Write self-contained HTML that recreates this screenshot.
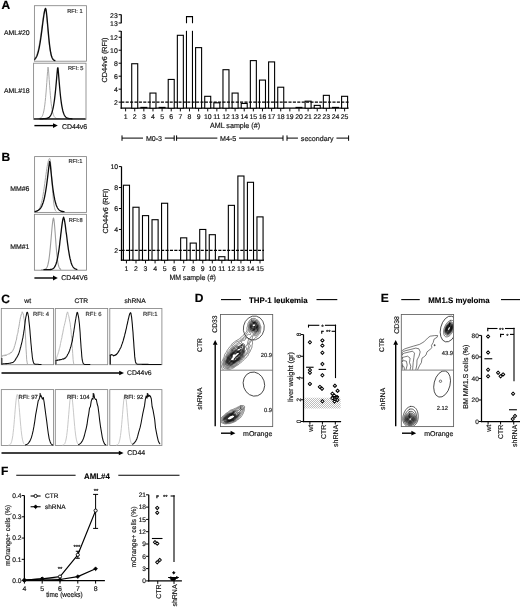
<!DOCTYPE html>
<html><head><meta charset="utf-8"><title>Figure</title>
<style>
html,body{margin:0;padding:0;background:#fff;}
body{width:520px;height:608px;overflow:hidden;}
svg{display:block;filter:blur(0.3px);font-family:"Liberation Sans",Arial,sans-serif;text-rendering:geometricPrecision;}
</style></head><body>
<svg width="520" height="608" viewBox="0 0 520 608">
<rect x="0" y="0" width="520" height="608" fill="#fff"/>
<text x="1.50" y="9.40" font-size="12" text-anchor="start" font-weight="bold" fill="#000" stroke="#000" stroke-width="0.2">A</text>
<rect x="34.40" y="5.70" width="52.10" height="55.50" stroke="#858585" stroke-width="0.85" fill="none"/>
<rect x="33.60" y="63.20" width="52.40" height="56.20" stroke="#858585" stroke-width="0.85" fill="none"/>
<text x="4.00" y="35.17" font-size="6.9" text-anchor="start" font-weight="normal" fill="#151515" stroke="#151515" stroke-width="0.18">AML#20</text>
<text x="4.00" y="93.17" font-size="6.9" text-anchor="start" font-weight="normal" fill="#151515" stroke="#151515" stroke-width="0.18">AML#18</text>
<text x="67.20" y="12.64" font-size="5.7" text-anchor="start" font-weight="normal" fill="#333" stroke="#333" stroke-width="0.18">RFI: 1</text>
<text x="68.00" y="70.14" font-size="5.7" text-anchor="start" font-weight="normal" fill="#333" stroke="#333" stroke-width="0.18">RFI: 5</text>
<path d="M34.8,58.4 L35.2,57.9 L35.6,57.3 L36.0,56.5 L36.4,55.7 L36.8,54.6 L37.2,53.5 L37.6,52.2 L38.0,50.6 L38.4,49.0 L38.8,47.1 L39.2,45.0 L39.6,42.7 L40.0,40.3 L40.4,37.7 L40.8,34.9 L41.2,32.0 L41.6,29.0 L42.0,26.0 L42.4,23.0 L42.8,20.1 L43.2,17.3 L43.6,14.7 L44.0,12.4 L44.4,10.6 L44.8,9.2 L45.2,8.4 L45.6,9.1 L46.0,11.3 L46.4,14.6 L46.8,18.6 L47.2,23.0 L47.6,27.6 L48.0,32.2 L48.4,36.5 L48.8,40.6 L49.2,44.2 L49.6,47.4 L50.0,50.2 L50.4,52.5 L50.8,54.4 L51.2,55.9 L51.6,57.1 L52.0,58.1 L52.4,58.8 L52.8,59.4 L53.2,59.8 L53.6,60.1 L54.0,60.3 L54.4,60.5 L54.8,60.6" stroke="#a9a9a9" stroke-width="1.0" fill="none" stroke-linejoin="round" stroke-linecap="round"/>
<path d="M34.8,59.2 L35.2,58.8 L35.6,58.3 L36.0,57.7 L36.4,57.0 L36.8,56.2 L37.2,55.2 L37.6,54.1 L38.0,52.8 L38.4,51.3 L38.8,49.6 L39.2,47.8 L39.6,45.7 L40.0,43.4 L40.4,40.9 L40.8,38.2 L41.2,35.3 L41.6,32.4 L42.0,29.3 L42.4,26.1 L42.8,23.0 L43.2,20.0 L43.6,17.1 L44.0,14.5 L44.4,12.2 L44.8,10.3 L45.2,9.0 L45.6,8.4 L46.0,9.5 L46.4,12.0 L46.8,15.5 L47.2,19.7 L47.6,24.2 L48.0,28.8 L48.4,33.3 L48.8,37.6 L49.2,41.5 L49.6,45.1 L50.0,48.1 L50.4,50.8 L50.8,53.0 L51.2,54.8 L51.6,56.3 L52.0,57.4 L52.4,58.3 L52.8,59.0 L53.2,59.5 L53.6,59.9 L54.0,60.2 L54.4,60.4 L54.8,60.5" stroke="#0c0c0c" stroke-width="1.3" fill="none" stroke-linejoin="round" stroke-linecap="round"/>
<path d="M38.0,118.7 L38.4,118.7 L38.8,118.6 L39.2,118.5 L39.6,118.4 L40.0,118.3 L40.4,118.1 L40.8,117.9 L41.2,117.5 L41.6,117.1 L42.0,116.5 L42.4,115.8 L42.8,114.8 L43.2,113.6 L43.6,112.0 L44.0,110.1 L44.4,107.8 L44.8,104.9 L45.2,101.5 L45.6,97.5 L46.0,93.0 L46.4,87.9 L46.8,82.4 L47.2,76.7 L47.6,71.3 L48.0,67.1 L48.4,69.0 L48.8,73.9 L49.2,79.5 L49.6,85.2 L50.0,90.5 L50.4,95.3 L50.8,99.6 L51.2,103.3 L51.6,106.4 L52.0,109.0 L52.4,111.1 L52.8,112.9 L53.2,114.2 L53.6,115.3 L54.0,116.2 L54.4,116.8 L54.8,117.3 L55.2,117.7 L55.6,118.0 L56.0,118.2 L56.4,118.4 L56.8,118.5 L57.2,118.6 L57.6,118.6 L58.0,118.7 L58.4,118.7 L58.8,118.7 L59.2,118.8 L59.6,118.8 L60.0,118.8" stroke="#a9a9a9" stroke-width="1.0" fill="none" stroke-linejoin="round" stroke-linecap="round"/>
<line x1="34.00" y1="118.90" x2="85.60" y2="118.90" stroke="#0c0c0c" stroke-width="1.2" stroke-linecap="butt"/>
<path d="M40.0,118.8 L40.4,118.8 L40.8,118.8 L41.2,118.8 L41.6,118.8 L42.0,118.8 L42.4,118.8 L42.8,118.8 L43.2,118.7 L43.6,118.7 L44.0,118.7 L44.4,118.7 L44.8,118.7 L45.2,118.6 L45.6,118.6 L46.0,118.5 L46.4,118.5 L46.8,118.4 L47.2,118.3 L47.6,118.1 L48.0,117.9 L48.4,117.7 L48.8,117.5 L49.2,117.2 L49.6,116.8 L50.0,116.3 L50.4,115.8 L50.8,115.1 L51.2,114.3 L51.6,113.4 L52.0,112.3 L52.4,110.9 L52.8,109.4 L53.2,107.6 L53.6,105.5 L54.0,103.0 L54.4,100.3 L54.8,97.1 L55.2,93.6 L55.6,89.8 L56.0,85.5 L56.4,81.1 L56.8,76.4 L57.2,71.8 L57.6,67.8 L58.0,67.9 L58.4,72.2 L58.8,77.2 L59.2,82.1 L59.6,86.8 L60.0,91.2 L60.4,95.2 L60.8,98.7 L61.2,101.8 L61.6,104.6 L62.0,106.9 L62.4,108.9 L62.8,110.7 L63.2,112.1 L63.6,113.3 L64.0,114.3 L64.4,115.2 L64.8,115.9 L65.2,116.4 L65.6,116.9 L66.0,117.3 L66.4,117.6 L66.8,117.8 L67.2,118.0 L67.6,118.2 L68.0,118.3 L68.4,118.4 L68.8,118.5 L69.2,118.6 L69.6,118.6 L70.0,118.7 L70.4,118.7 L70.8,118.7 L71.2,118.7 L71.6,118.8 L72.0,118.8" stroke="#0c0c0c" stroke-width="1.3" fill="none" stroke-linejoin="round" stroke-linecap="round"/>
<line x1="34.40" y1="125.60" x2="53.50" y2="125.60" stroke="#000" stroke-width="1.4" stroke-linecap="butt"/>
<path d="M57.80,125.60 L53.00,123.20 L53.00,128.00 Z" fill="#000"/>
<text x="61.90" y="128.71" font-size="7.0" text-anchor="start" font-weight="normal" fill="#151515" stroke="#151515" stroke-width="0.18">CD44v6</text>
<line x1="121.25" y1="31.00" x2="121.25" y2="108.83" stroke="#000" stroke-width="1.25" stroke-linecap="butt"/>
<line x1="121.25" y1="14.40" x2="121.25" y2="23.20" stroke="#000" stroke-width="1.25" stroke-linecap="butt"/>
<line x1="120.62" y1="108.20" x2="348.60" y2="108.20" stroke="#000" stroke-width="1.25" stroke-linecap="butt"/>
<line x1="118.65" y1="102.15" x2="121.25" y2="102.15" stroke="#000" stroke-width="1.0" stroke-linecap="butt"/>
<text x="117.75" y="104.62" font-size="6.9" text-anchor="end" font-weight="normal" fill="#151515" stroke="#151515" stroke-width="0.18">2</text>
<line x1="118.65" y1="89.17" x2="121.25" y2="89.17" stroke="#000" stroke-width="1.0" stroke-linecap="butt"/>
<text x="117.75" y="91.64" font-size="6.9" text-anchor="end" font-weight="normal" fill="#151515" stroke="#151515" stroke-width="0.18">4</text>
<line x1="118.65" y1="76.19" x2="121.25" y2="76.19" stroke="#000" stroke-width="1.0" stroke-linecap="butt"/>
<text x="117.75" y="78.66" font-size="6.9" text-anchor="end" font-weight="normal" fill="#151515" stroke="#151515" stroke-width="0.18">6</text>
<line x1="118.65" y1="63.21" x2="121.25" y2="63.21" stroke="#000" stroke-width="1.0" stroke-linecap="butt"/>
<text x="117.75" y="65.68" font-size="6.9" text-anchor="end" font-weight="normal" fill="#151515" stroke="#151515" stroke-width="0.18">8</text>
<line x1="118.65" y1="50.23" x2="121.25" y2="50.23" stroke="#000" stroke-width="1.0" stroke-linecap="butt"/>
<text x="117.75" y="52.70" font-size="6.9" text-anchor="end" font-weight="normal" fill="#151515" stroke="#151515" stroke-width="0.18">10</text>
<line x1="118.65" y1="37.25" x2="121.25" y2="37.25" stroke="#000" stroke-width="1.0" stroke-linecap="butt"/>
<text x="117.75" y="39.72" font-size="6.9" text-anchor="end" font-weight="normal" fill="#151515" stroke="#151515" stroke-width="0.18">12</text>
<line x1="118.65" y1="31.20" x2="121.25" y2="31.20" stroke="#000" stroke-width="1.0" stroke-linecap="butt"/>
<line x1="118.65" y1="14.70" x2="121.25" y2="14.70" stroke="#000" stroke-width="1.0" stroke-linecap="butt"/>
<line x1="118.65" y1="23.00" x2="121.25" y2="23.00" stroke="#000" stroke-width="1.0" stroke-linecap="butt"/>
<text x="117.75" y="17.67" font-size="6.9" text-anchor="end" font-weight="normal" fill="#151515" stroke="#151515" stroke-width="0.18">23</text>
<text x="117.75" y="25.67" font-size="6.9" text-anchor="end" font-weight="normal" fill="#151515" stroke="#151515" stroke-width="0.18">13</text>
<text transform="translate(106.81,60.00) rotate(-90)" font-size="7.3" text-anchor="middle" font-weight="normal" fill="#151515" stroke="#151515" stroke-width="0.18">CD44v6 (RFI)</text>
<line x1="125.60" y1="108.20" x2="125.60" y2="111.40" stroke="#000" stroke-width="0.95" stroke-linecap="butt"/>
<text x="125.60" y="118.67" font-size="6.9" text-anchor="middle" font-weight="normal" fill="#151515" stroke="#151515" stroke-width="0.18">1</text>
<line x1="134.72" y1="108.20" x2="134.72" y2="111.40" stroke="#000" stroke-width="0.95" stroke-linecap="butt"/>
<text x="134.72" y="118.67" font-size="6.9" text-anchor="middle" font-weight="normal" fill="#151515" stroke="#151515" stroke-width="0.18">2</text>
<rect x="131.72" y="63.73" width="6.00" height="44.47" stroke="#000" stroke-width="1.1" fill="#fff"/>
<line x1="143.85" y1="108.20" x2="143.85" y2="111.40" stroke="#000" stroke-width="0.95" stroke-linecap="butt"/>
<text x="143.85" y="118.67" font-size="6.9" text-anchor="middle" font-weight="normal" fill="#151515" stroke="#151515" stroke-width="0.18">3</text>
<line x1="140.35" y1="107.50" x2="147.35" y2="107.50" stroke="#000" stroke-width="1.3" stroke-linecap="butt"/>
<line x1="152.97" y1="108.20" x2="152.97" y2="111.40" stroke="#000" stroke-width="0.95" stroke-linecap="butt"/>
<text x="152.97" y="118.67" font-size="6.9" text-anchor="middle" font-weight="normal" fill="#151515" stroke="#151515" stroke-width="0.18">4</text>
<rect x="149.97" y="93.06" width="6.00" height="15.14" stroke="#000" stroke-width="1.1" fill="#fff"/>
<line x1="162.10" y1="108.20" x2="162.10" y2="111.40" stroke="#000" stroke-width="0.95" stroke-linecap="butt"/>
<text x="162.10" y="118.67" font-size="6.9" text-anchor="middle" font-weight="normal" fill="#151515" stroke="#151515" stroke-width="0.18">5</text>
<line x1="158.60" y1="107.50" x2="165.60" y2="107.50" stroke="#000" stroke-width="1.3" stroke-linecap="butt"/>
<line x1="171.22" y1="108.20" x2="171.22" y2="111.40" stroke="#000" stroke-width="0.95" stroke-linecap="butt"/>
<text x="171.22" y="118.67" font-size="6.9" text-anchor="middle" font-weight="normal" fill="#151515" stroke="#151515" stroke-width="0.18">6</text>
<rect x="168.22" y="79.44" width="6.00" height="28.77" stroke="#000" stroke-width="1.1" fill="#fff"/>
<line x1="180.35" y1="108.20" x2="180.35" y2="111.40" stroke="#000" stroke-width="0.95" stroke-linecap="butt"/>
<text x="180.35" y="118.67" font-size="6.9" text-anchor="middle" font-weight="normal" fill="#151515" stroke="#151515" stroke-width="0.18">7</text>
<rect x="177.35" y="35.30" width="6.00" height="72.90" stroke="#000" stroke-width="1.1" fill="#fff"/>
<line x1="189.47" y1="108.20" x2="189.47" y2="111.40" stroke="#000" stroke-width="0.95" stroke-linecap="butt"/>
<text x="189.47" y="118.67" font-size="6.9" text-anchor="middle" font-weight="normal" fill="#151515" stroke="#151515" stroke-width="0.18">8</text>
<line x1="186.47" y1="108.20" x2="186.47" y2="30.80" stroke="#000" stroke-width="1.1" stroke-linecap="butt"/>
<line x1="192.47" y1="108.20" x2="192.47" y2="30.80" stroke="#000" stroke-width="1.1" stroke-linecap="butt"/>
<path d="M186.5,22.7 L186.5,16.6 L192.5,16.6 L192.5,22.7" stroke="#000" stroke-width="1.1" fill="none" stroke-linejoin="miter" stroke-linecap="round"/>
<line x1="198.60" y1="108.20" x2="198.60" y2="111.40" stroke="#000" stroke-width="0.95" stroke-linecap="butt"/>
<text x="198.60" y="118.67" font-size="6.9" text-anchor="middle" font-weight="normal" fill="#151515" stroke="#151515" stroke-width="0.18">9</text>
<rect x="195.60" y="47.63" width="6.00" height="60.57" stroke="#000" stroke-width="1.1" fill="#fff"/>
<line x1="207.72" y1="108.20" x2="207.72" y2="111.40" stroke="#000" stroke-width="0.95" stroke-linecap="butt"/>
<text x="207.72" y="118.67" font-size="6.9" text-anchor="middle" font-weight="normal" fill="#151515" stroke="#151515" stroke-width="0.18">10</text>
<rect x="204.72" y="96.31" width="6.00" height="11.89" stroke="#000" stroke-width="1.1" fill="#fff"/>
<line x1="216.85" y1="108.20" x2="216.85" y2="111.40" stroke="#000" stroke-width="0.95" stroke-linecap="butt"/>
<text x="216.85" y="118.67" font-size="6.9" text-anchor="middle" font-weight="normal" fill="#151515" stroke="#151515" stroke-width="0.18">11</text>
<rect x="213.85" y="102.80" width="6.00" height="5.40" stroke="#000" stroke-width="1.1" fill="#fff"/>
<line x1="225.97" y1="108.20" x2="225.97" y2="111.40" stroke="#000" stroke-width="0.95" stroke-linecap="butt"/>
<text x="225.97" y="118.67" font-size="6.9" text-anchor="middle" font-weight="normal" fill="#151515" stroke="#151515" stroke-width="0.18">12</text>
<rect x="222.97" y="69.70" width="6.00" height="38.50" stroke="#000" stroke-width="1.1" fill="#fff"/>
<line x1="235.10" y1="108.20" x2="235.10" y2="111.40" stroke="#000" stroke-width="0.95" stroke-linecap="butt"/>
<text x="235.10" y="118.67" font-size="6.9" text-anchor="middle" font-weight="normal" fill="#151515" stroke="#151515" stroke-width="0.18">13</text>
<rect x="232.10" y="93.06" width="6.00" height="15.14" stroke="#000" stroke-width="1.1" fill="#fff"/>
<line x1="244.22" y1="108.20" x2="244.22" y2="111.40" stroke="#000" stroke-width="0.95" stroke-linecap="butt"/>
<text x="244.22" y="118.67" font-size="6.9" text-anchor="middle" font-weight="normal" fill="#151515" stroke="#151515" stroke-width="0.18">14</text>
<rect x="241.22" y="103.45" width="6.00" height="4.75" stroke="#000" stroke-width="1.1" fill="#fff"/>
<line x1="253.35" y1="108.20" x2="253.35" y2="111.40" stroke="#000" stroke-width="0.95" stroke-linecap="butt"/>
<text x="253.35" y="118.67" font-size="6.9" text-anchor="middle" font-weight="normal" fill="#151515" stroke="#151515" stroke-width="0.18">15</text>
<rect x="250.35" y="60.61" width="6.00" height="47.59" stroke="#000" stroke-width="1.1" fill="#fff"/>
<line x1="262.48" y1="108.20" x2="262.48" y2="111.40" stroke="#000" stroke-width="0.95" stroke-linecap="butt"/>
<text x="262.48" y="118.67" font-size="6.9" text-anchor="middle" font-weight="normal" fill="#151515" stroke="#151515" stroke-width="0.18">16</text>
<rect x="259.48" y="80.08" width="6.00" height="28.12" stroke="#000" stroke-width="1.1" fill="#fff"/>
<line x1="271.60" y1="108.20" x2="271.60" y2="111.40" stroke="#000" stroke-width="0.95" stroke-linecap="butt"/>
<text x="271.60" y="118.67" font-size="6.9" text-anchor="middle" font-weight="normal" fill="#151515" stroke="#151515" stroke-width="0.18">17</text>
<rect x="268.60" y="61.91" width="6.00" height="46.29" stroke="#000" stroke-width="1.1" fill="#fff"/>
<line x1="280.73" y1="108.20" x2="280.73" y2="111.40" stroke="#000" stroke-width="0.95" stroke-linecap="butt"/>
<text x="280.73" y="118.67" font-size="6.9" text-anchor="middle" font-weight="normal" fill="#151515" stroke="#151515" stroke-width="0.18">18</text>
<rect x="277.73" y="87.22" width="6.00" height="20.98" stroke="#000" stroke-width="1.1" fill="#fff"/>
<line x1="289.85" y1="108.20" x2="289.85" y2="111.40" stroke="#000" stroke-width="0.95" stroke-linecap="butt"/>
<text x="289.85" y="118.67" font-size="6.9" text-anchor="middle" font-weight="normal" fill="#151515" stroke="#151515" stroke-width="0.18">19</text>
<line x1="298.98" y1="108.20" x2="298.98" y2="111.40" stroke="#000" stroke-width="0.95" stroke-linecap="butt"/>
<text x="298.98" y="118.67" font-size="6.9" text-anchor="middle" font-weight="normal" fill="#151515" stroke="#151515" stroke-width="0.18">20</text>
<line x1="295.48" y1="107.50" x2="302.48" y2="107.50" stroke="#000" stroke-width="1.3" stroke-linecap="butt"/>
<line x1="308.10" y1="108.20" x2="308.10" y2="111.40" stroke="#000" stroke-width="0.95" stroke-linecap="butt"/>
<text x="308.10" y="118.67" font-size="6.9" text-anchor="middle" font-weight="normal" fill="#151515" stroke="#151515" stroke-width="0.18">21</text>
<rect x="305.10" y="101.18" width="6.00" height="7.02" stroke="#000" stroke-width="1.1" fill="#fff"/>
<line x1="317.23" y1="108.20" x2="317.23" y2="111.40" stroke="#000" stroke-width="0.95" stroke-linecap="butt"/>
<text x="317.23" y="118.67" font-size="6.9" text-anchor="middle" font-weight="normal" fill="#151515" stroke="#151515" stroke-width="0.18">22</text>
<rect x="314.23" y="105.39" width="6.00" height="2.81" stroke="#000" stroke-width="1.1" fill="#fff"/>
<line x1="326.35" y1="108.20" x2="326.35" y2="111.40" stroke="#000" stroke-width="0.95" stroke-linecap="butt"/>
<text x="326.35" y="118.67" font-size="6.9" text-anchor="middle" font-weight="normal" fill="#151515" stroke="#151515" stroke-width="0.18">23</text>
<rect x="323.35" y="95.34" width="6.00" height="12.86" stroke="#000" stroke-width="1.1" fill="#fff"/>
<line x1="335.48" y1="108.20" x2="335.48" y2="111.40" stroke="#000" stroke-width="0.95" stroke-linecap="butt"/>
<text x="335.48" y="118.67" font-size="6.9" text-anchor="middle" font-weight="normal" fill="#151515" stroke="#151515" stroke-width="0.18">24</text>
<line x1="331.98" y1="107.50" x2="338.98" y2="107.50" stroke="#000" stroke-width="1.3" stroke-linecap="butt"/>
<line x1="344.60" y1="108.20" x2="344.60" y2="111.40" stroke="#000" stroke-width="0.95" stroke-linecap="butt"/>
<text x="344.60" y="118.67" font-size="6.9" text-anchor="middle" font-weight="normal" fill="#151515" stroke="#151515" stroke-width="0.18">25</text>
<rect x="341.60" y="96.31" width="6.00" height="11.89" stroke="#000" stroke-width="1.1" fill="#fff"/>
<line x1="121.25" y1="102.15" x2="348.60" y2="102.15" stroke="#000" stroke-width="1.1" stroke-linecap="butt" stroke-dasharray="3.1 1.3"/>
<text x="210.00" y="128.38" font-size="7.5" text-anchor="start" font-weight="normal" fill="#151515" textLength="50" lengthAdjust="spacingAndGlyphs" stroke="#151515" stroke-width="0.18">AML sample (#)</text>
<line x1="122.00" y1="135.40" x2="122.00" y2="140.80" stroke="#000" stroke-width="1.0" stroke-linecap="butt"/>
<line x1="174.20" y1="135.40" x2="174.20" y2="140.80" stroke="#000" stroke-width="1.0" stroke-linecap="butt"/>
<line x1="122.00" y1="138.10" x2="143.00" y2="138.10" stroke="#000" stroke-width="1.0" stroke-linecap="butt"/>
<line x1="164.80" y1="138.10" x2="174.20" y2="138.10" stroke="#000" stroke-width="1.0" stroke-linecap="butt"/>
<text x="154.00" y="140.84" font-size="7.1" text-anchor="middle" font-weight="normal" fill="#151515" stroke="#151515" stroke-width="0.18">M0-3</text>
<line x1="176.60" y1="135.40" x2="176.60" y2="140.80" stroke="#000" stroke-width="1.0" stroke-linecap="butt"/>
<line x1="283.00" y1="135.40" x2="283.00" y2="140.80" stroke="#000" stroke-width="1.0" stroke-linecap="butt"/>
<line x1="176.60" y1="138.10" x2="217.35" y2="138.10" stroke="#000" stroke-width="1.0" stroke-linecap="butt"/>
<line x1="239.05" y1="138.10" x2="283.00" y2="138.10" stroke="#000" stroke-width="1.0" stroke-linecap="butt"/>
<text x="228.20" y="140.84" font-size="7.1" text-anchor="middle" font-weight="normal" fill="#151515" stroke="#151515" stroke-width="0.18">M4-5</text>
<line x1="287.00" y1="135.40" x2="287.00" y2="140.80" stroke="#000" stroke-width="1.0" stroke-linecap="butt"/>
<line x1="348.60" y1="135.40" x2="348.60" y2="140.80" stroke="#000" stroke-width="1.0" stroke-linecap="butt"/>
<line x1="287.00" y1="138.10" x2="297.95" y2="138.10" stroke="#000" stroke-width="1.0" stroke-linecap="butt"/>
<line x1="336.45" y1="138.10" x2="348.60" y2="138.10" stroke="#000" stroke-width="1.0" stroke-linecap="butt"/>
<text x="317.20" y="140.84" font-size="7.1" text-anchor="middle" font-weight="normal" fill="#151515" stroke="#151515" stroke-width="0.18">secondary</text>
<text x="1.50" y="160.70" font-size="12" text-anchor="start" font-weight="bold" fill="#000" stroke="#000" stroke-width="0.2">B</text>
<rect x="34.60" y="156.60" width="51.90" height="55.80" stroke="#858585" stroke-width="0.85" fill="none"/>
<rect x="34.40" y="214.30" width="52.10" height="55.90" stroke="#858585" stroke-width="0.85" fill="none"/>
<text x="10.20" y="191.17" font-size="6.9" text-anchor="start" font-weight="normal" fill="#151515" stroke="#151515" stroke-width="0.18">MM#6</text>
<text x="10.20" y="249.47" font-size="6.9" text-anchor="start" font-weight="normal" fill="#151515" stroke="#151515" stroke-width="0.18">MM#1</text>
<text x="68.50" y="163.24" font-size="5.7" text-anchor="start" font-weight="normal" fill="#333" stroke="#333" stroke-width="0.18">RFI:1</text>
<text x="68.70" y="222.24" font-size="5.7" text-anchor="start" font-weight="normal" fill="#333" stroke="#333" stroke-width="0.18">RFI:8</text>
<path d="M35.2,211.7 L35.6,211.6 L36.0,211.5 L36.4,211.4 L36.8,211.2 L37.2,211.0 L37.6,210.7 L38.0,210.4 L38.4,210.0 L38.8,209.5 L39.2,208.9 L39.6,208.1 L40.0,207.3 L40.4,206.3 L40.8,205.1 L41.2,203.7 L41.6,202.2 L42.0,200.5 L42.4,198.5 L42.8,196.4 L43.2,194.1 L43.6,191.6 L44.0,188.9 L44.4,186.1 L44.8,183.3 L45.2,180.3 L45.6,177.4 L46.0,174.4 L46.4,171.6 L46.8,168.9 L47.2,166.4 L47.6,164.2 L48.0,162.3 L48.4,160.7 L48.8,159.5 L49.2,158.7 L49.6,158.4 L50.0,158.9 L50.4,161.2 L50.8,165.1 L51.2,170.2 L51.6,176.1 L52.0,182.2 L52.4,188.1 L52.8,193.5 L53.2,198.2 L53.6,202.0 L54.0,205.0 L54.4,207.3 L54.8,208.9 L55.2,210.0 L55.6,210.8 L56.0,211.2" stroke="#a9a9a9" stroke-width="1.0" fill="none" stroke-linejoin="round" stroke-linecap="round"/>
<path d="M35.2,211.5 L35.6,211.4 L36.0,211.3 L36.4,211.2 L36.8,211.0 L37.2,210.9 L37.6,210.7 L38.0,210.5 L38.4,210.2 L38.8,210.0 L39.2,209.6 L39.6,209.3 L40.0,208.8 L40.4,208.3 L40.8,207.8 L41.2,207.1 L41.6,206.4 L42.0,205.6 L42.4,204.6 L42.8,203.6 L43.2,202.4 L43.6,201.0 L44.0,199.5 L44.4,197.8 L44.8,196.0 L45.2,193.9 L45.6,191.7 L46.0,189.2 L46.4,186.6 L46.8,183.7 L47.2,180.7 L47.6,177.4 L48.0,174.1 L48.4,170.7 L48.8,167.3 L49.2,164.1 L49.6,161.4 L50.0,162.3 L50.4,165.7 L50.8,169.6 L51.2,173.5 L51.6,177.4 L52.0,181.1 L52.4,184.6 L52.8,187.8 L53.2,190.7 L53.6,193.4 L54.0,195.8 L54.4,198.0 L54.8,199.9 L55.2,201.6 L55.6,203.0 L56.0,204.3 L56.4,205.5 L56.8,206.4 L57.2,207.3 L57.6,208.0 L58.0,208.6 L58.4,209.1 L58.8,209.6 L59.2,210.0 L59.6,210.3 L60.0,210.5 L60.4,210.8 L60.8,211.0 L61.2,211.1 L61.6,211.3 L62.0,211.4 L62.4,211.5 L62.8,211.5 L63.2,211.6 L63.6,211.7 L64.0,211.7" stroke="#0c0c0c" stroke-width="1.3" fill="none" stroke-linejoin="round" stroke-linecap="round"/>
<path d="M41.5,269.7 L41.9,269.7 L42.3,269.7 L42.7,269.7 L43.1,269.7 L43.5,269.6 L43.9,269.6 L44.3,269.5 L44.7,269.4 L45.1,269.3 L45.5,269.1 L45.9,268.8 L46.3,268.4 L46.7,267.8 L47.1,267.0 L47.5,266.0 L47.9,264.7 L48.3,263.0 L48.7,260.9 L49.1,258.3 L49.5,255.2 L49.9,251.6 L50.3,247.6 L50.7,243.2 L51.1,238.6 L51.5,233.8 L51.9,229.2 L52.3,225.0 L52.7,221.5 L53.1,219.0 L53.5,218.0 L53.9,219.4 L54.3,222.6 L54.7,227.0 L55.1,232.3 L55.5,237.8 L55.9,243.2 L56.3,248.3 L56.7,252.9 L57.1,256.8 L57.5,260.0 L57.9,262.7 L58.3,264.7 L58.7,266.2 L59.1,267.3 L59.5,268.1 L59.9,268.7 L60.3,269.0 L60.7,269.3" stroke="#9c9c9c" stroke-width="1.1" fill="none" stroke-linejoin="round" stroke-linecap="round"/>
<path d="M44.0,269.7 L44.4,269.7 L44.8,269.7 L45.2,269.7 L45.6,269.7 L46.0,269.7 L46.4,269.7 L46.8,269.7 L47.2,269.7 L47.6,269.7 L48.0,269.7 L48.4,269.7 L48.8,269.7 L49.2,269.6 L49.6,269.6 L50.0,269.6 L50.4,269.5 L50.8,269.5 L51.2,269.4 L51.6,269.3 L52.0,269.2 L52.4,269.0 L52.8,268.8 L53.2,268.5 L53.6,268.2 L54.0,267.8 L54.4,267.3 L54.8,266.7 L55.2,265.9 L55.6,265.0 L56.0,264.0 L56.4,262.7 L56.8,261.4 L57.2,259.6 L57.6,257.8 L58.0,255.5 L58.4,253.1 L58.8,250.8 L59.2,248.0 L59.6,244.9 L60.0,241.0 L60.4,238.1 L60.8,234.4 L61.2,231.4 L61.6,227.8 L62.0,224.9 L62.4,222.2 L62.8,219.7 L63.2,218.2 L63.6,217.2 L64.0,218.5 L64.4,219.8 L64.8,222.1 L65.2,224.6 L65.6,227.9 L66.0,231.5 L66.4,233.9 L66.8,237.0 L67.2,240.3 L67.6,243.6 L68.0,246.4 L68.4,249.5 L68.8,251.7 L69.2,254.2 L69.6,256.4 L70.0,258.4 L70.4,259.8 L70.8,261.3 L71.2,262.9 L71.6,263.9 L72.0,264.9 L72.4,265.8 L72.8,266.5 L73.2,267.1 L73.6,267.6 L74.0,268.0 L74.4,268.3 L74.8,268.6 L75.2,268.8 L75.6,269.0 L76.0,269.2 L76.4,269.3 L76.8,269.4" stroke="#0c0c0c" stroke-width="1.3" fill="none" stroke-linejoin="round" stroke-linecap="round"/>
<line x1="34.40" y1="278.00" x2="53.50" y2="278.00" stroke="#000" stroke-width="1.4" stroke-linecap="butt"/>
<path d="M57.80,278.00 L53.00,275.60 L53.00,280.40 Z" fill="#000"/>
<text x="61.30" y="280.01" font-size="7.0" text-anchor="start" font-weight="normal" fill="#151515" stroke="#151515" stroke-width="0.18">CD44V6</text>
<line x1="121.50" y1="166.50" x2="121.50" y2="260.82" stroke="#000" stroke-width="1.25" stroke-linecap="butt"/>
<line x1="120.88" y1="260.20" x2="264.00" y2="260.20" stroke="#000" stroke-width="1.25" stroke-linecap="butt"/>
<line x1="118.90" y1="250.42" x2="121.50" y2="250.42" stroke="#000" stroke-width="1.0" stroke-linecap="butt"/>
<text x="118.10" y="252.89" font-size="6.9" text-anchor="end" font-weight="normal" fill="#151515" stroke="#151515" stroke-width="0.18">2</text>
<line x1="118.90" y1="229.46" x2="121.50" y2="229.46" stroke="#000" stroke-width="1.0" stroke-linecap="butt"/>
<text x="118.10" y="231.93" font-size="6.9" text-anchor="end" font-weight="normal" fill="#151515" stroke="#151515" stroke-width="0.18">4</text>
<line x1="118.90" y1="208.50" x2="121.50" y2="208.50" stroke="#000" stroke-width="1.0" stroke-linecap="butt"/>
<text x="118.10" y="210.97" font-size="6.9" text-anchor="end" font-weight="normal" fill="#151515" stroke="#151515" stroke-width="0.18">6</text>
<line x1="118.90" y1="187.54" x2="121.50" y2="187.54" stroke="#000" stroke-width="1.0" stroke-linecap="butt"/>
<text x="118.10" y="190.01" font-size="6.9" text-anchor="end" font-weight="normal" fill="#151515" stroke="#151515" stroke-width="0.18">8</text>
<line x1="118.90" y1="166.58" x2="121.50" y2="166.58" stroke="#000" stroke-width="1.0" stroke-linecap="butt"/>
<text x="118.10" y="169.05" font-size="6.9" text-anchor="end" font-weight="normal" fill="#151515" stroke="#151515" stroke-width="0.18">10</text>
<text transform="translate(108.21,211.00) rotate(-90)" font-size="7.3" text-anchor="middle" font-weight="normal" fill="#151515" stroke="#151515" stroke-width="0.18">CD44v6 (RFI)</text>
<line x1="126.45" y1="260.20" x2="126.45" y2="263.40" stroke="#000" stroke-width="0.95" stroke-linecap="butt"/>
<text x="126.45" y="270.57" font-size="6.9" text-anchor="middle" font-weight="normal" fill="#151515" stroke="#151515" stroke-width="0.18">1</text>
<rect x="123.40" y="185.23" width="6.10" height="74.97" stroke="#000" stroke-width="1.1" fill="#fff"/>
<line x1="135.99" y1="260.20" x2="135.99" y2="263.40" stroke="#000" stroke-width="0.95" stroke-linecap="butt"/>
<text x="135.99" y="270.57" font-size="6.9" text-anchor="middle" font-weight="normal" fill="#151515" stroke="#151515" stroke-width="0.18">2</text>
<rect x="132.94" y="207.24" width="6.10" height="52.96" stroke="#000" stroke-width="1.1" fill="#fff"/>
<line x1="145.53" y1="260.20" x2="145.53" y2="263.40" stroke="#000" stroke-width="0.95" stroke-linecap="butt"/>
<text x="145.53" y="270.57" font-size="6.9" text-anchor="middle" font-weight="normal" fill="#151515" stroke="#151515" stroke-width="0.18">3</text>
<rect x="142.48" y="215.63" width="6.10" height="44.57" stroke="#000" stroke-width="1.1" fill="#fff"/>
<line x1="155.07" y1="260.20" x2="155.07" y2="263.40" stroke="#000" stroke-width="0.95" stroke-linecap="butt"/>
<text x="155.07" y="270.57" font-size="6.9" text-anchor="middle" font-weight="normal" fill="#151515" stroke="#151515" stroke-width="0.18">4</text>
<rect x="152.02" y="219.71" width="6.10" height="40.49" stroke="#000" stroke-width="1.1" fill="#fff"/>
<line x1="164.61" y1="260.20" x2="164.61" y2="263.40" stroke="#000" stroke-width="0.95" stroke-linecap="butt"/>
<text x="164.61" y="270.57" font-size="6.9" text-anchor="middle" font-weight="normal" fill="#151515" stroke="#151515" stroke-width="0.18">5</text>
<rect x="161.56" y="203.26" width="6.10" height="56.94" stroke="#000" stroke-width="1.1" fill="#fff"/>
<line x1="174.15" y1="260.20" x2="174.15" y2="263.40" stroke="#000" stroke-width="0.95" stroke-linecap="butt"/>
<text x="174.15" y="270.57" font-size="6.9" text-anchor="middle" font-weight="normal" fill="#151515" stroke="#151515" stroke-width="0.18">6</text>
<line x1="183.69" y1="260.20" x2="183.69" y2="263.40" stroke="#000" stroke-width="0.95" stroke-linecap="butt"/>
<text x="183.69" y="270.57" font-size="6.9" text-anchor="middle" font-weight="normal" fill="#151515" stroke="#151515" stroke-width="0.18">7</text>
<rect x="180.64" y="237.84" width="6.10" height="22.36" stroke="#000" stroke-width="1.1" fill="#fff"/>
<line x1="193.23" y1="260.20" x2="193.23" y2="263.40" stroke="#000" stroke-width="0.95" stroke-linecap="butt"/>
<text x="193.23" y="270.57" font-size="6.9" text-anchor="middle" font-weight="normal" fill="#151515" stroke="#151515" stroke-width="0.18">8</text>
<rect x="190.18" y="243.08" width="6.10" height="17.12" stroke="#000" stroke-width="1.1" fill="#fff"/>
<line x1="202.77" y1="260.20" x2="202.77" y2="263.40" stroke="#000" stroke-width="0.95" stroke-linecap="butt"/>
<text x="202.77" y="270.57" font-size="6.9" text-anchor="middle" font-weight="normal" fill="#151515" stroke="#151515" stroke-width="0.18">9</text>
<rect x="199.72" y="229.46" width="6.10" height="30.74" stroke="#000" stroke-width="1.1" fill="#fff"/>
<line x1="212.31" y1="260.20" x2="212.31" y2="263.40" stroke="#000" stroke-width="0.95" stroke-linecap="butt"/>
<text x="212.31" y="270.57" font-size="6.9" text-anchor="middle" font-weight="normal" fill="#151515" stroke="#151515" stroke-width="0.18">10</text>
<rect x="209.26" y="234.70" width="6.10" height="25.50" stroke="#000" stroke-width="1.1" fill="#fff"/>
<line x1="221.85" y1="260.20" x2="221.85" y2="263.40" stroke="#000" stroke-width="0.95" stroke-linecap="butt"/>
<text x="221.85" y="270.57" font-size="6.9" text-anchor="middle" font-weight="normal" fill="#151515" stroke="#151515" stroke-width="0.18">11</text>
<rect x="218.80" y="256.71" width="6.10" height="3.49" stroke="#000" stroke-width="1.1" fill="#fff"/>
<line x1="231.39" y1="260.20" x2="231.39" y2="263.40" stroke="#000" stroke-width="0.95" stroke-linecap="butt"/>
<text x="231.39" y="270.57" font-size="6.9" text-anchor="middle" font-weight="normal" fill="#151515" stroke="#151515" stroke-width="0.18">12</text>
<rect x="228.34" y="205.36" width="6.10" height="54.84" stroke="#000" stroke-width="1.1" fill="#fff"/>
<line x1="240.93" y1="260.20" x2="240.93" y2="263.40" stroke="#000" stroke-width="0.95" stroke-linecap="butt"/>
<text x="240.93" y="270.57" font-size="6.9" text-anchor="middle" font-weight="normal" fill="#151515" stroke="#151515" stroke-width="0.18">13</text>
<rect x="237.88" y="176.01" width="6.10" height="84.19" stroke="#000" stroke-width="1.1" fill="#fff"/>
<line x1="250.47" y1="260.20" x2="250.47" y2="263.40" stroke="#000" stroke-width="0.95" stroke-linecap="butt"/>
<text x="250.47" y="270.57" font-size="6.9" text-anchor="middle" font-weight="normal" fill="#151515" stroke="#151515" stroke-width="0.18">14</text>
<rect x="247.42" y="182.30" width="6.10" height="77.90" stroke="#000" stroke-width="1.1" fill="#fff"/>
<line x1="260.01" y1="260.20" x2="260.01" y2="263.40" stroke="#000" stroke-width="0.95" stroke-linecap="butt"/>
<text x="260.01" y="270.57" font-size="6.9" text-anchor="middle" font-weight="normal" fill="#151515" stroke="#151515" stroke-width="0.18">15</text>
<rect x="256.96" y="216.88" width="6.10" height="43.32" stroke="#000" stroke-width="1.1" fill="#fff"/>
<line x1="121.50" y1="250.42" x2="264.00" y2="250.42" stroke="#000" stroke-width="1.1" stroke-linecap="butt" stroke-dasharray="3.1 1.3"/>
<text x="169.40" y="280.08" font-size="7.5" text-anchor="start" font-weight="normal" fill="#151515" textLength="46.5" lengthAdjust="spacingAndGlyphs" stroke="#151515" stroke-width="0.18">MM sample (#)</text>
<text x="1.30" y="302.70" font-size="12" text-anchor="start" font-weight="bold" fill="#000" stroke="#000" stroke-width="0.2">C</text>
<text x="27.70" y="302.50" font-size="6.8" text-anchor="middle" fill="#151515" stroke="#151515" stroke-width="0.18">wt</text>
<text x="81.25" y="302.50" font-size="6.7" text-anchor="middle" fill="#151515" stroke="#151515" stroke-width="0.18">CTR</text>
<text x="135.00" y="302.50" font-size="6.7" text-anchor="middle" fill="#151515" stroke="#151515" stroke-width="0.18">shRNA</text>
<rect x="1.30" y="308.50" width="52.30" height="56.20" stroke="#858585" stroke-width="0.85" fill="none"/>
<rect x="1.30" y="389.60" width="52.30" height="55.90" stroke="#858585" stroke-width="0.85" fill="none"/>
<rect x="55.30" y="308.50" width="52.40" height="56.20" stroke="#858585" stroke-width="0.85" fill="none"/>
<rect x="55.30" y="389.60" width="52.40" height="55.90" stroke="#858585" stroke-width="0.85" fill="none"/>
<rect x="109.80" y="308.50" width="52.10" height="56.20" stroke="#858585" stroke-width="0.85" fill="none"/>
<rect x="109.80" y="389.60" width="52.10" height="55.90" stroke="#858585" stroke-width="0.85" fill="none"/>
<path d="M1.9,356.9 L2.2,355.9 L2.6,355.5 L2.9,356.2 L3.3,355.3 L3.6,355.4 L4.0,355.6 L4.3,355.8 L4.7,355.0 L5.0,354.7 L5.4,355.8 L5.7,354.9 L6.1,355.6 L6.4,355.4 L6.8,354.5 L7.1,354.5 L7.5,354.4 L7.8,354.4 L8.2,354.2 L8.5,354.0 L8.9,353.9 L9.2,354.2 L9.6,353.4 L9.9,353.2 L10.3,353.4 L10.6,352.5 L11.0,352.3 L11.3,353.0 L11.7,352.1 L12.0,351.8 L12.4,350.7 L12.7,350.9 L13.1,350.5 L13.4,349.0 L13.8,348.9 L14.1,347.9 L14.5,346.0 L14.8,345.5 L15.2,344.0 L15.5,343.0 L15.9,341.2 L16.2,340.4 L16.6,339.0 L16.9,336.4 L17.3,334.7 L17.6,333.7 L18.0,332.3 L18.3,329.4 L18.7,327.8 L19.0,326.1 L19.4,323.7 L19.7,321.7 L20.1,319.6 L20.4,317.8 L20.8,316.5 L21.1,315.0 L21.5,314.0 L21.8,313.6 L22.2,311.8 L22.5,312.3 L22.9,313.2 L23.2,313.9 L23.6,315.6 L23.9,318.3 L24.3,319.9 L24.6,323.0 L25.0,327.1 L25.3,333.1 L25.7,340.1 L26.0,348.2 L26.4,354.2 L26.7,359.8 L27.1,362.2 L27.4,363.8" stroke="#adadad" stroke-width="1.0" fill="none" stroke-linejoin="round" stroke-linecap="round"/>
<path d="M1.9,363.9 L2.2,363.9 L2.6,363.9 L2.9,363.9 L3.3,363.8 L3.6,363.8 L4.0,363.8 L4.3,363.8 L4.7,363.7 L5.0,363.8 L5.4,363.7 L5.7,363.6 L6.1,363.6 L6.4,363.6 L6.8,363.6 L7.1,363.6 L7.5,363.5 L7.8,363.4 L8.2,363.4 L8.5,363.4 L8.9,363.3 L9.2,363.3 L9.6,363.2 L9.9,363.2 L10.3,363.1 L10.6,363.1 L11.0,362.9 L11.3,362.8 L11.7,362.8 L12.0,362.7 L12.4,362.6 L12.7,362.4 L13.1,362.3 L13.4,362.1 L13.8,361.6 L14.1,361.4 L14.5,361.1 L14.8,360.6 L15.2,360.1 L15.5,359.4 L15.9,358.9 L16.2,358.3 L16.6,357.6 L16.9,357.3 L17.3,356.5 L17.6,356.2 L18.0,355.0 L18.3,354.8 L18.7,353.7 L19.0,352.9 L19.4,351.8 L19.7,350.7 L20.1,349.3 L20.4,347.7 L20.8,347.0 L21.1,345.2 L21.5,344.0 L21.8,342.7 L22.2,341.0 L22.5,339.2 L22.9,337.8 L23.2,335.6 L23.6,333.4 L23.9,331.2 L24.3,329.1 L24.6,326.1 L25.0,323.5 L25.3,320.6 L25.7,318.2 L26.0,316.5 L26.4,315.0 L26.7,313.1 L27.1,312.3 L27.4,312.3 L27.8,313.3 L28.1,314.8 L28.5,316.5 L28.8,319.9 L29.2,323.4 L29.5,326.1 L29.9,330.1 L30.2,334.2 L30.6,338.6 L30.9,342.7 L31.3,346.5 L31.6,350.4 L32.0,353.6 L32.3,357.0 L32.7,359.4 L33.0,361.0 L33.4,362.2 L33.7,363.2 L34.1,363.6 L34.4,363.8 L34.8,364.0 L35.1,364.2 L35.5,364.2 L35.8,364.3 L36.2,364.3 L36.5,364.3 L36.9,364.3 L37.2,364.3 L37.6,364.3 L37.9,364.3 L38.3,364.3 L38.6,364.4 L39.0,364.4 L39.3,364.4 L39.7,364.4 L40.0,364.4 L40.4,364.4 L40.7,364.4 L41.1,364.4" stroke="#0c0c0c" stroke-width="1.05" fill="none" stroke-linejoin="round" stroke-linecap="round"/>
<line x1="1.90" y1="364.30" x2="1.90" y2="358.00" stroke="#0c0c0c" stroke-width="0.9" stroke-linecap="butt"/>
<path d="M56.2,358.9 L56.6,357.8 L57.0,356.7 L57.3,355.6 L57.7,354.7 L58.0,353.9 L58.4,352.3 L58.7,351.5 L59.1,349.9 L59.4,348.3 L59.8,347.3 L60.1,345.9 L60.5,343.5 L60.8,342.2 L61.2,340.4 L61.5,339.2 L61.9,337.5 L62.2,335.0 L62.6,334.0 L62.9,332.2 L63.3,329.9 L63.6,328.5 L64.0,326.4 L64.3,325.6 L64.7,323.8 L65.0,322.5 L65.4,320.9 L65.7,319.3 L66.1,317.7 L66.4,315.8 L66.8,313.7 L67.1,313.1 L67.5,311.9 L67.8,312.5 L68.2,314.5 L68.5,315.2 L68.9,316.8 L69.2,318.4 L69.6,321.1 L69.9,322.2 L70.3,324.2 L70.6,327.7 L71.0,329.9 L71.3,334.6 L71.7,338.7 L72.0,343.6 L72.4,348.5 L72.7,353.3 L73.1,359.4 L73.4,362.0 L73.8,364.0" stroke="#bcbcbc" stroke-width="1.0" fill="none" stroke-linejoin="round" stroke-linecap="round"/>
<path d="M56.2,360.3 L56.6,360.3 L57.0,360.0 L57.3,360.3 L57.7,360.4 L58.0,359.9 L58.4,360.0 L58.7,360.0 L59.1,360.1 L59.4,359.7 L59.8,359.6 L60.1,359.6 L60.5,359.7 L60.8,359.7 L61.2,359.5 L61.5,359.4 L61.9,359.3 L62.2,359.2 L62.6,359.1 L62.9,358.8 L63.3,358.9 L63.6,359.1 L64.0,358.6 L64.3,358.7 L64.7,358.1 L65.0,358.3 L65.4,358.1 L65.7,357.7 L66.1,357.2 L66.4,356.7 L66.8,356.3 L67.1,355.9 L67.5,354.8 L67.8,354.1 L68.2,353.9 L68.5,353.3 L68.9,352.3 L69.2,351.5 L69.6,350.8 L69.9,349.4 L70.3,348.4 L70.6,347.2 L71.0,346.2 L71.3,344.7 L71.7,343.2 L72.0,342.1 L72.4,340.5 L72.7,338.1 L73.1,336.2 L73.4,333.7 L73.8,331.7 L74.1,329.3 L74.5,326.9 L74.8,324.7 L75.2,322.3 L75.5,320.4 L75.9,318.2 L76.2,316.3 L76.6,314.6 L76.9,312.9 L77.3,312.4 L77.6,312.6 L78.0,314.6 L78.3,315.8 L78.7,318.0 L79.0,320.5 L79.4,323.8 L79.7,327.6 L80.1,332.3 L80.4,337.7 L80.8,343.1 L81.1,347.7 L81.5,352.0 L81.8,356.4 L82.2,359.7 L82.5,361.2 L82.9,362.6 L83.2,363.4 L83.6,363.8 L83.9,364.1 L84.3,364.3 L84.6,364.4 L85.0,364.4 L85.3,364.4 L85.7,364.4 L86.0,364.4 L86.4,364.4 L86.7,364.5 L87.1,364.5 L87.4,364.5 L87.8,364.5 L88.1,364.5 L88.5,364.5 L88.8,364.5 L89.2,364.5 L89.5,364.5 L89.9,364.5" stroke="#0c0c0c" stroke-width="1.05" fill="none" stroke-linejoin="round" stroke-linecap="round"/>
<line x1="56.00" y1="364.30" x2="56.00" y2="360.00" stroke="#0c0c0c" stroke-width="0.9" stroke-linecap="butt"/>
<path d="M110.2,355.1 L110.6,355.0 L110.9,354.9 L111.3,354.9 L111.6,354.5 L112.0,354.7 L112.3,354.9 L112.7,355.1 L113.0,355.2 L113.4,355.6 L113.7,355.9 L114.1,355.5 L114.4,355.5 L114.8,355.2 L115.1,355.1 L115.5,355.2 L115.8,354.6 L116.2,354.8 L116.5,354.5 L116.9,353.6 L117.2,353.7 L117.6,352.9 L117.9,352.7 L118.3,352.2 L118.6,351.3 L119.0,351.0 L119.3,350.3 L119.7,349.7 L120.0,348.7 L120.4,348.3 L120.7,347.7 L121.1,346.7 L121.4,345.8 L121.8,344.6 L122.1,343.9 L122.5,342.8 L122.8,341.9 L123.2,340.7 L123.5,339.5 L123.9,338.0 L124.2,337.0 L124.6,335.7 L124.9,334.0 L125.3,333.0 L125.6,331.4 L126.0,329.6 L126.3,328.6 L126.7,326.5 L127.0,325.0 L127.4,323.6 L127.7,321.8 L128.1,320.2 L128.4,318.8 L128.8,317.3 L129.1,315.9 L129.5,314.6 L129.8,313.6 L130.2,313.2 L130.5,312.7 L130.9,313.1 L131.2,315.0 L131.6,317.1 L131.9,320.2 L132.3,324.0 L132.6,328.2 L133.0,332.2 L133.3,337.3 L133.7,342.1 L134.0,347.1 L134.4,351.8 L134.7,356.4 L135.1,359.3 L135.4,361.4 L135.8,362.8 L136.1,363.3 L136.5,363.7 L136.8,363.9 L137.2,364.1 L137.5,364.2 L137.9,364.2 L138.2,364.3 L138.6,364.3 L138.9,364.3 L139.3,364.3 L139.6,364.3 L140.0,364.3 L140.3,364.3 L140.7,364.3 L141.0,364.3 L141.4,364.3 L141.7,364.3 L142.1,364.4 L142.4,364.4 L142.8,364.4 L143.1,364.4 L143.5,364.4 L143.8,364.4 L144.2,364.4 L144.5,364.4 L144.9,364.4 L145.2,364.4 L145.6,364.4 L145.9,364.4 L146.3,364.4 L146.6,364.4 L147.0,364.4 L147.3,364.4 L147.7,364.4 L148.0,364.4 L148.4,364.4 L148.7,364.5 L149.1,364.5 L149.4,364.5 L149.8,364.5 L150.1,364.5 L150.5,364.5 L150.8,364.5 L151.2,364.5 L151.5,364.5 L151.9,364.5 L152.2,364.5 L152.6,364.5 L152.9,364.5 L153.3,364.5 L153.6,364.5 L154.0,364.5 L154.3,364.5 L154.7,364.5 L155.0,364.5 L155.4,364.5 L155.7,364.5 L156.1,364.5 L156.4,364.5 L156.8,364.5 L157.1,364.5 L157.5,364.5 L157.8,364.5 L158.2,364.5 L158.5,364.5 L158.9,364.5 L159.2,364.5 L159.6,364.5 L159.9,364.5 L160.3,364.5 L160.6,364.5 L161.0,364.5" stroke="#0c0c0c" stroke-width="1.1" fill="none" stroke-linejoin="round" stroke-linecap="round"/>
<line x1="110.30" y1="364.40" x2="110.30" y2="355.00" stroke="#0c0c0c" stroke-width="1.1" stroke-linecap="butt"/>
<text x="33.10" y="315.81" font-size="5.9" text-anchor="start" font-weight="normal" fill="#333" stroke="#333" stroke-width="0.18">RFI: 4</text>
<text x="85.60" y="315.61" font-size="5.9" text-anchor="start" font-weight="normal" fill="#333" stroke="#333" stroke-width="0.18">RFI: 6</text>
<text x="143.10" y="315.61" font-size="5.9" text-anchor="start" font-weight="normal" fill="#333" stroke="#333" stroke-width="0.18">RFI:1</text>
<line x1="1.50" y1="373.00" x2="119.70" y2="373.00" stroke="#000" stroke-width="1.45" stroke-linecap="butt"/>
<path d="M124.00,373.00 L119.20,370.70 L119.20,375.30 Z" fill="#000"/>
<text x="127.00" y="374.83" font-size="6.8" text-anchor="start" font-weight="normal" fill="#151515" stroke="#151515" stroke-width="0.18">CD44v6</text>
<path d="M8.8,445.1 L9.2,445.0 L9.6,444.8 L10.0,444.5 L10.4,444.2 L10.8,443.6 L11.2,442.8 L11.6,441.6 L12.0,440.1 L12.4,438.0 L12.8,435.5 L13.2,432.3 L13.6,428.6 L14.0,424.3 L14.4,419.6 L14.8,414.7 L15.2,409.8 L15.6,405.1 L16.0,400.9 L16.4,397.7 L16.8,395.4 L17.2,394.4 L17.6,394.8 L18.0,396.4 L18.4,399.2 L18.8,402.9 L19.2,407.4 L19.6,412.2 L20.0,417.2 L20.4,422.0 L20.8,426.5 L21.2,430.5 L21.6,434.0 L22.0,436.8 L22.4,439.1 L22.8,440.9 L23.2,442.2 L23.6,443.2 L24.0,443.9" stroke="#c2c2c2" stroke-width="0.9" fill="none" stroke-linejoin="round" stroke-linecap="round"/>
<path d="M25.4,444.9 L26.2,444.6 L27.1,444.2 L28.0,443.6 L28.8,442.6 L29.7,441.4 L30.5,439.8 L31.4,437.6 L32.2,434.7 L33.1,430.9 L33.9,426.7 L34.8,421.1 L35.6,415.2 L36.5,410.4 L37.3,406.0 L38.2,400.8 L39.0,399.4 L39.9,396.8 L40.7,394.9 L41.6,397.0 L42.4,399.1 L43.3,397.5 L44.1,402.0 L45.0,408.6 L45.8,414.7 L46.7,421.1 L47.5,427.7 L48.4,434.2 L49.2,438.8 L50.1,441.7 L50.9,443.5 L51.8,444.5 L52.6,445.0" stroke="#0c0c0c" stroke-width="1.05" fill="none" stroke-linejoin="round" stroke-linecap="round"/>
<line x1="40.10" y1="397.00" x2="40.10" y2="393.00" stroke="#0c0c0c" stroke-width="1.0" stroke-linecap="butt"/>
<text x="18.50" y="399.21" font-size="5.9" text-anchor="start" font-weight="normal" fill="#222" stroke="#222" stroke-width="0.18">RFI: 97</text>
<path d="M62.8,445.1 L63.1,445.0 L63.5,444.8 L63.9,444.5 L64.3,444.2 L64.8,443.6 L65.1,442.8 L65.5,441.6 L65.9,440.1 L66.3,438.0 L66.7,435.5 L67.1,432.3 L67.5,428.6 L67.9,424.3 L68.3,419.6 L68.7,414.7 L69.1,409.8 L69.5,405.1 L69.9,400.9 L70.3,397.7 L70.7,395.4 L71.1,394.4 L71.5,394.8 L71.9,396.4 L72.3,399.2 L72.7,402.9 L73.1,407.4 L73.5,412.2 L73.9,417.2 L74.3,422.0 L74.7,426.5 L75.1,430.5 L75.5,434.0 L75.9,436.8 L76.3,439.1 L76.7,440.9 L77.1,442.2 L77.5,443.2 L77.9,443.9" stroke="#c2c2c2" stroke-width="0.9" fill="none" stroke-linejoin="round" stroke-linecap="round"/>
<path d="M78.5,444.6 L79.3,444.2 L80.2,443.6 L81.0,442.8 L81.9,441.7 L82.7,440.2 L83.6,438.1 L84.4,435.5 L85.3,431.8 L86.1,428.8 L87.0,424.7 L87.8,418.9 L88.7,414.1 L89.5,408.2 L90.4,406.6 L91.2,401.3 L92.1,398.6 L92.9,399.1 L93.8,393.8 L94.6,398.0 L95.5,399.5 L96.3,399.3 L97.2,404.0 L98.0,406.6 L98.9,413.5 L99.7,420.6 L100.6,427.2 L101.4,431.9 L102.3,437.3 L103.1,440.5 L104.0,442.9 L104.8,444.2 L105.7,444.8" stroke="#0c0c0c" stroke-width="1.05" fill="none" stroke-linejoin="round" stroke-linecap="round"/>
<line x1="93.20" y1="397.00" x2="93.20" y2="393.00" stroke="#0c0c0c" stroke-width="1.0" stroke-linecap="butt"/>
<text x="66.90" y="399.21" font-size="5.9" text-anchor="start" font-weight="normal" fill="#222" stroke="#222" stroke-width="0.18">RFI: 104</text>
<path d="M116.5,445.1 L116.9,445.0 L117.3,444.8 L117.7,444.5 L118.1,444.2 L118.5,443.6 L118.9,442.8 L119.3,441.6 L119.7,440.1 L120.1,438.0 L120.5,435.5 L120.9,432.3 L121.3,428.6 L121.7,424.3 L122.1,419.6 L122.5,414.7 L122.9,409.8 L123.3,405.1 L123.7,400.9 L124.1,397.7 L124.5,395.4 L124.9,394.4 L125.3,394.8 L125.7,396.4 L126.1,399.2 L126.5,402.9 L126.9,407.4 L127.3,412.2 L127.7,417.2 L128.1,422.0 L128.5,426.5 L128.9,430.5 L129.3,434.0 L129.7,436.8 L130.1,439.1 L130.5,440.9 L130.9,442.2 L131.3,443.2 L131.7,443.9" stroke="#c2c2c2" stroke-width="0.9" fill="none" stroke-linejoin="round" stroke-linecap="round"/>
<path d="M132.6,444.2 L133.4,443.7 L134.3,443.0 L135.1,441.9 L136.0,440.6 L136.8,439.0 L137.7,436.2 L138.5,432.9 L139.4,429.9 L140.2,427.2 L141.1,423.0 L141.9,418.5 L142.8,413.7 L143.6,409.9 L144.5,405.9 L145.3,399.7 L146.2,395.9 L147.0,398.2 L147.9,393.8 L148.7,396.6 L149.6,395.4 L150.4,396.3 L151.3,398.7 L152.1,406.5 L153.0,409.9 L153.8,414.4 L154.7,419.5 L155.5,427.6 L156.4,432.4 L157.2,436.3 L158.1,440.2 L158.9,442.4 L159.8,443.7" stroke="#0c0c0c" stroke-width="1.05" fill="none" stroke-linejoin="round" stroke-linecap="round"/>
<line x1="147.30" y1="397.00" x2="147.30" y2="393.00" stroke="#0c0c0c" stroke-width="1.0" stroke-linecap="butt"/>
<text x="124.00" y="399.21" font-size="5.9" text-anchor="start" font-weight="normal" fill="#222" stroke="#222" stroke-width="0.18">RFI: 92</text>
<line x1="1.50" y1="453.00" x2="119.30" y2="453.00" stroke="#000" stroke-width="1.45" stroke-linecap="butt"/>
<path d="M123.60,453.00 L118.80,450.70 L118.80,455.30 Z" fill="#000"/>
<text x="127.30" y="455.11" font-size="7.0" text-anchor="start" font-weight="normal" fill="#151515" stroke="#151515" stroke-width="0.18">CD44</text>
<text x="194.80" y="301.50" font-size="12" text-anchor="start" font-weight="bold" fill="#000" stroke="#000" stroke-width="0.2">D</text>
<text x="278.30" y="302.83" font-size="7.9" text-anchor="middle" font-weight="bold" fill="#000" stroke="#000" stroke-width="0.1">THP-1 leukemia</text>
<line x1="221.00" y1="299.60" x2="241.00" y2="299.60" stroke="#000" stroke-width="1.1" stroke-linecap="butt"/>
<line x1="316.50" y1="299.60" x2="337.30" y2="299.60" stroke="#000" stroke-width="1.1" stroke-linecap="butt"/>
<rect x="220.50" y="314.50" width="52.20" height="112.10" stroke="#5e5e5e" stroke-width="0.85" fill="none"/>
<line x1="220.50" y1="370.20" x2="272.70" y2="370.20" stroke="#666" stroke-width="0.8" stroke-linecap="butt"/>
<text transform="translate(217.20,324.10) rotate(-90)" font-size="6.7" text-anchor="middle" font-weight="normal" fill="#151515" stroke="#151515" stroke-width="0.18">CD33</text>
<line x1="215.20" y1="426.30" x2="215.20" y2="344.30" stroke="#000" stroke-width="1.4" stroke-linecap="butt"/>
<path d="M215.20,340.00 L212.80,344.80 L217.60,344.80 Z" fill="#000"/>
<text transform="translate(201.70,345.00) rotate(-90)" font-size="6.7" text-anchor="middle" font-weight="normal" fill="#151515" stroke="#151515" stroke-width="0.18">CTR</text>
<text transform="translate(201.81,398.60) rotate(-90)" font-size="7.0" text-anchor="middle" font-weight="normal" fill="#151515" stroke="#151515" stroke-width="0.18">shRNA</text>
<line x1="221.00" y1="433.20" x2="231.10" y2="433.20" stroke="#000" stroke-width="1.4" stroke-linecap="butt"/>
<path d="M235.40,433.20 L230.60,430.80 L230.60,435.60 Z" fill="#000"/>
<text x="243.10" y="435.91" font-size="7.0" text-anchor="start" font-weight="normal" fill="#151515" stroke="#151515" stroke-width="0.18">mOrange</text>
<text x="272.10" y="356.58" font-size="5.8" text-anchor="end" font-weight="normal" fill="#222" stroke="#222" stroke-width="0.18">20.9</text>
<text x="272.10" y="412.48" font-size="5.8" text-anchor="end" font-weight="normal" fill="#222" stroke="#222" stroke-width="0.18">0.9</text>
<clipPath id="cD1"><rect x="221" y="315" width="51.3" height="54.8"/></clipPath>
<clipPath id="cD2"><rect x="221" y="370.7" width="51.3" height="55.4"/></clipPath>
<g clip-path="url(#cD1)">
<path d="M251.6,318.8 L252.4,318.6 L253.2,318.4 L254.0,318.4 L254.8,318.5 L255.6,318.8 L256.0,319.2 L256.4,319.5 L256.8,319.7 L257.4,320.0 L258.0,320.4 L258.4,320.8 L258.7,321.2 L258.8,321.6 L259.2,322.3 L259.4,322.8 L259.6,323.2 L259.9,324.0 L260.0,324.5 L260.3,325.2 L260.5,325.6 L260.8,326.4 L260.8,326.8 L260.9,327.6 L260.8,328.4 L260.8,328.8 L260.7,329.6 L260.6,330.4 L260.5,331.2 L260.4,331.9 L260.3,332.4 L260.0,333.0 L259.6,333.6 L259.2,334.0 L258.8,334.4 L258.5,334.8 L258.2,335.2 L257.9,335.6 L257.6,336.1 L257.2,336.6 L256.8,336.9 L256.4,337.2 L255.6,337.6 L255.2,337.9 L254.8,338.2 L254.4,338.7 L254.0,339.1 L253.6,339.5 L253.2,340.0 L252.9,340.4 L252.7,340.8 L252.5,341.6 L252.5,342.4 L252.6,343.2 L252.4,344.0 L252.3,344.4 L252.1,345.2 L252.0,345.8 L252.0,346.4 L251.9,347.2 L251.7,348.0 L251.5,348.4 L251.2,349.0 L250.9,349.6 L250.7,350.0 L250.4,350.7 L250.2,351.2 L250.0,351.7 L249.6,352.3 L249.3,352.8 L249.0,353.2 L248.7,353.6 L248.4,354.4 L248.3,354.8 L248.0,355.4 L247.6,356.0 L247.3,356.4 L246.8,356.8 L246.4,357.2 L246.0,357.6 L245.7,358.0 L245.3,358.4 L244.9,358.8 L244.5,359.2 L244.0,359.6 L243.6,359.9 L243.2,360.4 L242.8,360.8 L242.5,361.2 L242.1,361.6 L241.6,362.0 L241.2,362.2 L240.8,362.5 L240.4,362.8 L240.0,363.2 L239.6,363.6 L239.2,364.0 L238.8,364.4 L238.2,364.8 L237.6,365.1 L237.2,365.3 L236.7,365.6 L236.1,366.0 L235.6,366.4 L235.2,366.7 L234.8,367.0 L234.4,367.3 L233.9,367.6 L233.2,368.0 L232.8,368.2 L232.3,368.4 L231.6,368.7 L231.2,368.9 L230.5,369.2 L230.0,369.4 L229.2,369.5 L228.4,369.6 L228.0,369.6 L227.2,369.8 L226.7,370.0 L226.0,370.3 L225.5,370.4 L224.8,370.5 L224.4,370.4 L223.6,370.0 L223.2,369.8 L222.8,369.4 L222.4,368.9 L222.1,368.4 L222.0,368.0 L221.6,367.2 L221.5,366.8 L221.6,366.0 L221.7,365.6 L222.0,364.8 L222.1,364.4 L222.1,363.6 L222.0,362.8 L221.9,362.4 L222.0,361.6 L222.1,361.2 L222.4,360.6 L222.7,360.0 L222.9,359.6 L223.2,358.8 L223.4,358.4 L223.6,358.0 L224.0,357.2 L224.2,356.8 L224.3,356.0 L224.4,355.5 L224.6,354.8 L224.8,354.3 L225.2,353.7 L225.6,353.2 L226.0,352.8 L226.2,352.4 L226.5,352.0 L226.8,351.3 L227.0,350.8 L227.2,350.4 L227.6,349.8 L228.0,349.3 L228.4,348.8 L228.6,348.4 L228.9,348.0 L229.2,347.4 L229.6,347.0 L230.0,346.7 L230.4,346.4 L230.8,346.0 L231.2,345.5 L231.5,344.8 L231.7,344.4 L232.0,343.9 L232.4,343.5 L232.8,343.1 L233.2,342.8 L233.8,342.4 L234.4,342.0 L234.8,341.7 L235.2,341.4 L235.6,341.1 L236.1,340.8 L236.8,340.4 L237.2,340.2 L237.6,339.9 L238.2,339.6 L238.8,339.2 L239.2,338.9 L239.6,338.7 L240.0,338.4 L240.5,338.0 L241.0,337.6 L241.4,337.2 L241.7,336.8 L242.0,336.4 L242.4,336.0 L242.8,335.6 L243.3,335.2 L243.8,334.8 L244.3,334.4 L244.7,334.0 L245.0,333.6 L245.3,333.2 L245.6,332.8 L246.0,332.2 L246.4,331.7 L246.7,331.2 L246.8,330.8 L247.0,330.0 L247.0,329.2 L246.9,328.4 L247.0,327.6 L247.2,327.0 L247.4,326.4 L247.6,325.7 L247.7,325.2 L247.8,324.4 L247.9,323.6 L248.1,323.2 L248.4,322.6 L248.7,322.0 L248.9,321.6 L249.2,321.1 L249.6,320.5 L250.0,320.0 L250.4,319.6 L250.8,319.3 L251.2,319.0 L251.6,318.8 L251.6,318.8" stroke="#222" stroke-width="0.55" fill="none" stroke-linejoin="round" stroke-linecap="round"/>
<path d="M251.6,320.0 L252.4,319.8 L253.2,319.7 L254.0,319.7 L254.8,319.9 L255.2,320.1 L256.0,320.4 L256.4,320.5 L257.1,320.8 L257.6,321.2 L257.9,321.6 L258.0,322.0 L258.3,322.8 L258.5,323.2 L258.8,323.8 L259.1,324.4 L259.2,324.8 L259.5,325.6 L259.7,326.0 L260.0,326.8 L260.0,327.2 L260.0,328.0 L259.9,328.4 L259.7,329.2 L259.6,329.6 L259.5,330.4 L259.4,331.2 L259.3,332.0 L259.1,332.4 L258.8,332.9 L258.4,333.4 L258.0,333.9 L257.6,334.3 L257.2,334.8 L256.8,335.2 L256.4,335.5 L256.0,335.7 L255.2,335.9 L254.4,335.7 L253.6,335.7 L253.0,336.0 L252.6,336.4 L252.4,337.1 L252.4,337.6 L252.3,338.4 L252.0,339.2 L251.8,339.6 L251.6,340.1 L251.3,340.8 L251.1,341.2 L250.8,341.7 L250.4,342.3 L250.0,342.7 L249.6,343.2 L249.4,343.6 L249.5,344.4 L250.0,344.8 L250.2,345.2 L250.2,346.0 L250.0,346.8 L249.8,347.2 L249.5,347.6 L249.2,348.2 L249.0,348.8 L249.1,349.6 L249.1,350.4 L248.9,351.2 L248.7,351.6 L248.4,352.0 L248.0,352.6 L247.6,353.2 L247.3,353.6 L247.1,354.0 L246.7,354.4 L246.4,354.8 L245.9,355.2 L245.4,355.6 L245.0,356.0 L244.7,356.4 L244.4,356.9 L244.0,357.6 L243.7,358.0 L243.4,358.4 L243.0,358.8 L242.5,359.2 L242.1,359.6 L241.8,360.0 L241.4,360.4 L241.0,360.8 L240.6,361.2 L240.1,361.6 L239.6,362.0 L239.2,362.4 L238.9,362.8 L238.5,363.2 L238.2,363.6 L237.7,364.0 L237.2,364.3 L236.8,364.6 L236.4,364.8 L235.8,365.2 L235.4,365.6 L234.9,366.0 L234.4,366.4 L234.0,366.7 L233.6,366.9 L232.9,367.2 L232.4,367.4 L231.6,367.5 L231.2,367.6 L230.4,367.9 L230.0,368.0 L229.2,368.3 L228.6,368.4 L228.0,368.5 L227.2,368.6 L226.4,368.7 L225.6,368.8 L224.8,368.7 L224.0,368.4 L223.6,368.0 L223.4,367.6 L223.2,366.8 L223.1,366.4 L223.0,365.6 L223.0,364.8 L223.1,364.0 L223.2,363.3 L223.3,362.8 L223.5,362.0 L223.6,361.2 L223.6,360.8 L223.7,360.0 L224.0,359.2 L224.2,358.8 L224.5,358.4 L224.8,357.9 L225.2,357.3 L225.5,356.8 L225.7,356.4 L226.0,355.6 L226.1,355.2 L226.4,354.7 L226.8,354.1 L227.1,353.6 L227.3,353.2 L227.6,352.6 L227.8,352.0 L228.0,351.6 L228.4,351.0 L228.8,350.6 L229.2,350.2 L229.6,349.8 L230.0,349.3 L230.3,348.8 L230.6,348.4 L230.9,348.0 L231.2,347.6 L231.6,347.2 L232.0,346.7 L232.4,346.0 L232.6,345.6 L232.8,345.2 L233.2,344.6 L233.6,344.2 L234.0,343.9 L234.5,343.6 L235.0,343.2 L235.5,342.8 L235.9,342.4 L236.4,342.0 L236.8,341.7 L237.2,341.5 L238.0,341.3 L238.6,341.2 L239.2,341.1 L239.7,340.8 L240.1,340.4 L240.5,340.0 L241.0,339.6 L241.5,339.2 L242.0,338.8 L242.4,338.5 L242.8,338.2 L243.2,337.8 L243.6,337.3 L244.0,336.8 L244.4,336.4 L244.8,336.1 L245.2,335.7 L245.6,335.2 L245.8,334.8 L246.0,334.4 L246.4,333.8 L246.8,333.3 L247.2,332.9 L247.6,332.5 L248.0,332.0 L248.1,331.6 L248.2,330.8 L248.3,330.0 L248.3,329.2 L248.4,328.4 L248.4,328.0 L248.5,327.2 L248.6,326.4 L248.6,325.6 L248.8,324.8 L248.9,324.4 L249.1,323.6 L249.3,323.2 L249.6,322.5 L249.8,322.0 L250.0,321.6 L250.4,321.0 L250.8,320.5 L251.2,320.2 L251.6,320.0 L251.6,320.0" stroke="#222" stroke-width="0.55" fill="none" stroke-linejoin="round" stroke-linecap="round"/>
<path d="M251.7,320.8 L252.4,320.6 L253.2,320.5 L254.0,320.7 L254.4,320.8 L255.2,320.9 L256.0,321.0 L256.5,321.2 L257.1,321.6 L257.3,322.0 L257.5,322.8 L257.7,323.2 L258.0,323.8 L258.4,324.4 L258.6,324.8 L258.8,325.3 L259.0,326.0 L259.2,326.5 L259.4,327.2 L259.4,328.0 L259.2,328.7 L259.1,329.2 L258.8,330.0 L258.8,330.4 L258.6,331.2 L258.4,332.0 L258.2,332.4 L257.9,332.8 L257.6,333.2 L257.2,333.6 L256.8,334.0 L256.3,334.4 L255.6,334.7 L254.8,334.7 L254.0,334.6 L253.2,334.7 L252.8,334.9 L252.2,335.2 L251.8,335.6 L251.6,336.0 L251.2,336.6 L250.8,337.1 L250.4,337.6 L250.0,338.0 L249.8,338.4 L249.7,339.2 L250.0,339.7 L250.2,340.4 L250.0,341.2 L249.7,341.6 L249.4,342.0 L249.1,342.4 L248.8,342.8 L248.4,343.6 L248.3,344.0 L248.1,344.8 L248.2,345.6 L248.4,346.0 L248.5,346.8 L248.4,347.2 L248.1,348.0 L248.0,348.4 L247.8,349.2 L247.7,350.0 L247.6,350.5 L247.4,351.2 L247.2,351.8 L246.9,352.4 L246.7,352.8 L246.4,353.3 L246.0,353.9 L245.6,354.3 L245.2,354.7 L244.8,355.1 L244.4,355.6 L244.1,356.0 L243.9,356.4 L243.6,357.0 L243.2,357.6 L242.8,358.0 L242.4,358.4 L242.0,358.8 L241.6,359.1 L241.2,359.6 L240.8,360.0 L240.4,360.4 L240.0,360.8 L239.6,361.2 L239.2,361.5 L238.8,361.9 L238.4,362.3 L238.0,362.7 L237.6,363.1 L237.2,363.5 L236.8,363.8 L236.4,364.0 L235.8,364.4 L235.3,364.8 L234.9,365.2 L234.5,365.6 L234.0,366.0 L233.6,366.2 L233.1,366.4 L232.4,366.5 L231.6,366.5 L230.8,366.6 L230.4,366.8 L229.7,367.2 L229.2,367.4 L228.8,367.6 L228.0,367.8 L227.2,367.8 L226.4,367.7 L225.7,367.6 L225.2,367.5 L224.5,367.2 L224.3,366.8 L224.0,366.1 L223.9,365.6 L223.8,364.8 L223.8,364.0 L223.9,363.2 L224.1,362.8 L224.3,362.0 L224.4,361.6 L224.5,360.8 L224.6,360.0 L224.8,359.4 L225.1,358.8 L225.4,358.4 L225.7,358.0 L226.0,357.5 L226.3,356.8 L226.4,356.4 L226.8,355.6 L227.0,355.2 L227.3,354.8 L227.6,354.4 L228.0,353.8 L228.3,353.2 L228.5,352.8 L228.8,352.2 L229.2,351.7 L229.6,351.3 L230.0,350.9 L230.4,350.4 L230.6,350.0 L230.9,349.6 L231.2,349.0 L231.6,348.5 L232.0,348.0 L232.4,347.6 L232.8,347.2 L233.2,346.8 L233.5,346.4 L233.8,346.0 L234.3,345.6 L234.8,345.3 L235.2,345.1 L235.9,344.8 L236.4,344.4 L236.8,344.0 L237.1,343.6 L237.5,343.2 L238.0,342.9 L238.4,342.7 L239.2,342.4 L239.6,342.2 L240.0,341.9 L240.4,341.6 L240.8,341.1 L241.2,340.6 L241.6,340.2 L242.0,339.9 L242.4,339.6 L243.1,339.2 L243.6,338.8 L244.0,338.5 L244.4,338.1 L244.8,337.6 L245.2,337.2 L245.6,336.8 L246.0,336.5 L246.4,336.1 L246.8,335.6 L247.1,335.2 L247.4,334.8 L247.9,334.4 L248.4,334.2 L249.2,334.4 L249.6,334.6 L250.4,334.5 L250.8,334.2 L251.0,333.6 L250.5,333.2 L250.0,333.0 L249.6,332.4 L249.5,332.0 L249.4,331.2 L249.2,330.4 L249.2,330.0 L249.1,329.2 L249.2,328.4 L249.2,328.0 L249.2,327.2 L249.2,326.4 L249.3,325.6 L249.4,324.8 L249.6,324.1 L249.8,323.6 L250.0,323.2 L250.3,322.4 L250.5,322.0 L250.8,321.6 L251.2,321.1 L251.7,320.8 L251.7,320.8" stroke="#222" stroke-width="0.55" fill="none" stroke-linejoin="round" stroke-linecap="round"/>
<path d="M251.7,321.6 L252.4,321.3 L253.2,321.3 L254.0,321.4 L254.8,321.5 L255.6,321.5 L256.0,321.6 L256.6,322.0 L256.9,322.4 L257.1,323.2 L257.2,323.6 L257.6,324.1 L258.0,324.7 L258.3,325.2 L258.4,325.7 L258.6,326.4 L258.8,327.2 L258.8,328.0 L258.6,328.8 L258.4,329.6 L258.3,330.0 L258.1,330.8 L258.0,331.2 L257.6,332.0 L257.3,332.4 L256.9,332.8 L256.4,333.2 L256.0,333.5 L255.6,333.6 L254.8,333.8 L254.0,333.8 L253.2,333.7 L252.8,333.3 L252.7,332.8 L252.4,332.2 L251.6,332.2 L251.0,332.0 L250.5,331.6 L250.3,331.2 L250.0,330.4 L250.0,330.0 L249.8,329.2 L249.8,328.4 L249.8,327.6 L249.8,326.8 L249.8,326.0 L249.9,325.2 L250.0,324.6 L250.2,324.0 L250.4,323.6 L250.8,322.8 L251.0,322.4 L251.3,322.0 L251.7,321.6 L251.7,321.6" stroke="#222" stroke-width="0.55" fill="none" stroke-linejoin="round" stroke-linecap="round"/>
<path d="M246.1,338.0 L246.8,337.7 L247.6,337.7 L248.2,338.0 L248.4,338.4 L248.5,339.2 L248.4,339.9 L248.3,340.4 L248.1,341.2 L247.9,341.6 L247.7,342.4 L247.6,343.2 L247.5,343.6 L247.2,344.4 L247.0,344.8 L246.7,345.2 L246.4,345.6 L246.0,346.0 L245.7,346.8 L246.0,347.6 L246.4,347.9 L246.7,348.4 L246.6,349.2 L246.4,349.6 L246.0,350.1 L245.6,350.5 L245.2,351.2 L245.1,351.6 L245.0,352.4 L244.9,353.2 L244.7,353.6 L244.4,354.2 L244.0,354.8 L243.8,355.2 L243.6,355.6 L243.3,356.4 L243.1,356.8 L242.8,357.2 L242.4,357.6 L242.0,358.0 L241.6,358.4 L241.2,358.8 L240.8,359.2 L240.4,359.7 L240.0,360.1 L239.6,360.5 L239.2,360.8 L238.7,361.2 L238.2,361.6 L237.7,362.0 L237.3,362.4 L236.8,362.8 L236.4,363.1 L236.0,363.3 L235.5,363.6 L235.0,364.0 L234.5,364.4 L234.2,364.8 L233.7,365.2 L233.2,365.5 L232.6,365.6 L232.0,365.6 L231.2,365.8 L230.5,366.0 L230.0,366.2 L229.6,366.5 L228.9,366.8 L228.4,367.0 L227.6,367.0 L226.8,366.8 L226.4,366.8 L225.6,366.6 L225.2,366.4 L224.8,365.8 L224.6,365.2 L224.5,364.4 L224.6,363.6 L224.8,362.9 L224.9,362.4 L225.1,361.6 L225.2,361.1 L225.3,360.4 L225.6,359.7 L225.9,359.2 L226.1,358.8 L226.4,358.3 L226.7,357.6 L226.8,357.2 L227.1,356.4 L227.3,356.0 L227.6,355.5 L228.0,355.0 L228.4,354.4 L228.7,354.0 L228.9,353.6 L229.2,353.1 L229.6,352.5 L230.0,352.0 L230.4,351.6 L230.7,351.2 L231.0,350.8 L231.2,350.4 L231.6,349.6 L231.8,349.2 L232.1,348.8 L232.5,348.4 L232.9,348.0 L233.4,347.6 L233.9,347.2 L234.4,346.8 L234.8,346.5 L235.2,346.2 L235.6,346.0 L236.3,345.6 L236.8,345.3 L237.2,345.1 L237.6,344.8 L238.2,344.4 L238.7,344.0 L239.2,343.8 L240.0,343.7 L240.8,343.6 L241.2,343.3 L241.5,342.8 L241.5,342.0 L241.6,341.6 L242.0,341.1 L242.4,340.7 L242.9,340.4 L243.6,340.3 L244.4,340.4 L244.9,340.0 L245.2,339.4 L245.4,338.8 L245.7,338.4 L246.1,338.0 L246.1,338.0" stroke="#222" stroke-width="0.55" fill="none" stroke-linejoin="round" stroke-linecap="round"/>
<path d="M252.6,322.0 L253.2,322.0 L254.0,322.0 L254.8,322.0 L255.4,322.0 L256.0,322.2 L256.4,322.7 L256.6,323.2 L256.8,323.8 L257.2,324.4 L257.5,324.8 L257.8,325.2 L258.0,325.9 L258.1,326.4 L258.2,327.2 L258.2,328.0 L258.1,328.8 L258.0,329.2 L257.8,330.0 L257.6,330.8 L257.4,331.2 L257.1,331.6 L256.8,332.0 L256.3,332.4 L255.6,332.8 L255.2,332.9 L254.4,332.9 L254.0,332.4 L254.1,331.6 L254.0,331.1 L253.2,330.9 L252.4,331.2 L252.0,331.3 L251.5,331.2 L251.0,330.8 L250.8,330.4 L250.6,329.6 L250.4,328.8 L250.3,328.4 L250.2,327.6 L250.2,326.8 L250.2,326.0 L250.4,325.2 L250.5,324.8 L250.8,324.0 L251.0,323.6 L251.2,323.2 L251.6,322.6 L252.0,322.2 L252.6,322.0 L252.6,322.0" stroke="#111" stroke-width="0.75" fill="none" stroke-linejoin="round" stroke-linecap="round"/>
<path d="M242.7,344.0 L243.2,343.9 L243.9,344.0 L244.3,344.4 L244.5,344.8 L244.7,345.6 L244.7,346.4 L244.7,347.2 L244.6,348.0 L244.4,348.8 L244.4,349.2 L244.4,350.0 L244.4,350.4 L244.4,351.2 L244.4,351.6 L244.2,352.4 L244.0,352.9 L243.7,353.6 L243.5,354.0 L243.2,354.5 L243.0,355.2 L242.8,355.9 L242.6,356.4 L242.4,356.8 L242.0,357.2 L241.6,357.6 L241.2,358.0 L240.8,358.4 L240.4,358.9 L240.0,359.4 L239.6,359.8 L239.2,360.2 L238.8,360.5 L238.3,360.8 L237.7,361.2 L237.2,361.5 L236.8,361.8 L236.4,362.1 L236.0,362.4 L235.4,362.8 L234.8,363.2 L234.4,363.5 L234.0,363.8 L233.6,364.1 L233.2,364.4 L232.4,364.8 L232.0,364.9 L231.2,365.2 L230.8,365.3 L230.0,365.5 L229.6,365.7 L228.8,365.9 L228.0,366.0 L227.2,365.9 L226.4,365.8 L225.9,365.6 L225.6,365.2 L225.5,364.4 L225.5,363.6 L225.6,363.2 L225.7,362.4 L225.7,361.6 L225.9,360.8 L226.0,360.4 L226.4,359.6 L226.7,359.2 L226.9,358.8 L227.2,358.0 L227.3,357.6 L227.6,356.8 L227.8,356.4 L228.0,356.0 L228.4,355.5 L228.8,355.0 L229.2,354.5 L229.5,354.0 L229.8,353.6 L230.0,353.2 L230.4,352.7 L230.8,352.3 L231.2,351.8 L231.5,351.2 L231.7,350.8 L232.0,350.1 L232.2,349.6 L232.5,349.2 L232.9,348.8 L233.4,348.4 L234.0,348.0 L234.4,347.7 L234.8,347.4 L235.2,347.1 L235.7,346.8 L236.4,346.4 L236.8,346.3 L237.6,346.2 L238.4,346.4 L239.2,346.2 L239.6,346.0 L240.1,345.6 L240.5,345.2 L241.1,344.8 L241.6,344.5 L242.0,344.3 L242.7,344.0 L242.7,344.0" stroke="#111" stroke-width="0.75" fill="none" stroke-linejoin="round" stroke-linecap="round"/>
<path d="M254.2,322.4 L254.8,322.4 L255.3,322.4 L256.0,322.8 L256.2,323.2 L256.4,324.0 L256.7,324.4 L257.0,324.8 L257.3,325.2 L257.6,325.8 L257.7,326.4 L257.7,327.2 L257.6,328.0 L257.6,328.4 L257.5,329.2 L257.4,330.0 L257.2,330.6 L256.8,331.2 L256.4,331.6 L256.0,331.9 L255.6,332.0 L255.2,332.0 L254.8,331.3 L254.6,330.8 L254.2,330.4 L253.6,330.4 L253.2,330.4 L252.4,330.6 L251.6,330.4 L251.4,330.0 L251.2,329.6 L251.0,328.8 L250.8,328.3 L250.6,327.6 L250.6,326.8 L250.6,326.0 L250.8,325.3 L251.0,324.8 L251.2,324.4 L251.6,323.7 L252.0,323.2 L252.4,322.8 L252.8,322.6 L253.6,322.5 L254.2,322.4 L254.2,322.4" stroke="#111" stroke-width="0.75" fill="none" stroke-linejoin="round" stroke-linecap="round"/>
<path d="M241.5,345.2 L242.0,344.9 L242.8,344.9 L243.3,345.2 L243.6,345.6 L243.9,346.4 L244.0,347.2 L243.8,348.0 L243.6,348.8 L243.6,349.2 L243.6,349.9 L243.7,350.4 L243.8,351.2 L243.8,352.0 L243.6,352.5 L243.3,353.2 L243.0,353.6 L242.8,354.0 L242.4,354.8 L242.3,355.2 L242.1,356.0 L241.9,356.4 L241.6,356.8 L241.2,357.3 L240.8,357.6 L240.4,358.1 L240.0,358.7 L239.6,359.2 L239.3,359.6 L238.8,360.0 L238.4,360.3 L238.0,360.5 L237.4,360.8 L236.8,361.2 L236.4,361.5 L236.0,361.8 L235.6,362.1 L235.2,362.4 L234.6,362.8 L234.0,363.2 L233.6,363.5 L233.2,363.7 L232.8,364.0 L232.0,364.4 L231.6,364.5 L230.8,364.8 L230.4,364.8 L229.6,364.9 L228.8,365.0 L228.0,365.0 L227.2,365.0 L226.7,364.8 L226.4,364.3 L226.3,363.6 L226.3,362.8 L226.3,362.0 L226.3,361.2 L226.4,360.8 L226.8,360.0 L227.0,359.6 L227.2,359.2 L227.5,358.4 L227.7,358.0 L227.9,357.2 L228.1,356.8 L228.4,356.3 L228.8,355.8 L229.2,355.4 L229.6,354.9 L230.0,354.4 L230.3,354.0 L230.5,353.6 L230.9,353.2 L231.2,352.8 L231.6,352.4 L232.0,351.9 L232.3,351.2 L232.4,350.7 L232.7,350.0 L232.9,349.6 L233.3,349.2 L233.9,348.8 L234.4,348.6 L235.2,348.4 L235.6,348.3 L236.0,348.0 L236.5,347.6 L237.2,347.3 L237.7,347.2 L238.4,347.0 L239.2,346.8 L239.6,346.6 L240.0,346.3 L240.4,346.0 L240.9,345.6 L241.5,345.2 L241.5,345.2" stroke="#111" stroke-width="0.75" fill="none" stroke-linejoin="round" stroke-linecap="round"/>
<path d="M254.1,322.8 L254.8,322.7 L255.2,322.8 L255.7,323.2 L256.0,324.0 L256.1,324.4 L256.5,324.8 L256.9,325.2 L257.2,325.6 L257.4,326.4 L257.3,327.2 L257.2,327.8 L257.1,328.4 L257.1,329.2 L256.9,330.0 L256.8,330.4 L256.4,330.9 L255.6,331.2 L255.2,330.6 L254.8,330.2 L254.1,330.0 L253.8,330.0 L253.2,330.1 L252.4,330.1 L252.0,329.8 L251.6,329.2 L251.5,328.8 L251.2,328.1 L251.0,327.6 L250.9,326.8 L251.0,326.0 L251.2,325.3 L251.5,324.8 L251.7,324.4 L252.0,324.0 L252.4,323.6 L253.0,323.2 L253.6,322.9 L254.1,322.8 L254.1,322.8" stroke="#111" stroke-width="0.75" fill="none" stroke-linejoin="round" stroke-linecap="round"/>
<path d="M242.0,345.6 L242.3,345.6 L242.8,345.9 L243.1,346.4 L243.2,346.8 L243.2,347.5 L243.1,348.0 L243.0,348.8 L243.0,349.6 L243.2,350.4 L243.3,350.8 L243.4,351.6 L243.2,352.3 L243.0,352.8 L242.7,353.2 L242.4,353.7 L242.0,354.4 L241.9,354.8 L241.6,355.6 L241.5,356.0 L241.2,356.4 L240.8,356.9 L240.4,357.4 L240.0,357.9 L239.7,358.4 L239.5,358.8 L239.2,359.2 L238.8,359.6 L238.2,360.0 L237.6,360.3 L237.2,360.5 L236.7,360.8 L236.2,361.2 L235.7,361.6 L235.2,362.0 L234.8,362.3 L234.4,362.6 L234.0,362.8 L233.4,363.2 L232.8,363.5 L232.4,363.7 L231.7,364.0 L231.2,364.1 L230.4,364.3 L229.6,364.3 L228.8,364.3 L228.0,364.3 L227.2,364.0 L227.0,363.6 L226.8,362.8 L226.8,362.4 L226.8,361.6 L226.8,361.2 L227.1,360.4 L227.3,360.0 L227.6,359.3 L227.8,358.8 L228.0,358.2 L228.2,357.6 L228.4,357.1 L228.8,356.5 L229.2,356.0 L229.6,355.6 L230.0,355.2 L230.3,354.8 L230.5,354.4 L230.8,354.0 L231.2,353.5 L231.6,353.1 L232.0,352.7 L232.4,352.2 L232.8,351.7 L233.0,351.2 L233.2,350.7 L233.6,350.0 L234.0,349.8 L234.8,349.9 L235.6,349.8 L236.0,349.6 L236.4,349.2 L236.8,348.7 L237.2,348.2 L237.6,347.9 L238.2,347.6 L238.8,347.4 L239.4,347.2 L240.0,346.9 L240.4,346.7 L240.8,346.3 L241.2,346.0 L242.0,345.6 L242.0,345.6" stroke="#111" stroke-width="0.75" fill="none" stroke-linejoin="round" stroke-linecap="round"/>
<path d="M254.0,323.2 L254.8,323.1 L255.2,323.3 L255.6,324.0 L255.7,324.4 L256.0,325.0 L256.4,325.3 L256.8,325.6 L257.1,326.4 L257.0,327.2 L256.8,327.9 L256.7,328.4 L256.5,329.2 L256.4,329.7 L256.0,330.1 L255.6,330.0 L254.8,329.7 L254.0,329.7 L253.2,329.7 L252.6,329.6 L252.2,329.2 L252.0,328.8 L251.6,328.0 L251.5,327.6 L251.3,326.8 L251.4,326.0 L251.6,325.4 L252.0,324.8 L252.3,324.4 L252.7,324.0 L253.2,323.6 L253.6,323.4 L254.0,323.2 L254.0,323.2" stroke="#111" stroke-width="0.75" fill="none" stroke-linejoin="round" stroke-linecap="round"/>
<path d="M241.4,347.2 L241.7,347.2 L241.5,347.6 L241.6,348.1 L242.0,348.6 L242.3,349.2 L242.5,349.6 L242.7,350.4 L242.8,350.8 L242.9,351.6 L242.8,352.1 L242.4,352.8 L242.2,353.2 L241.9,353.6 L241.6,354.1 L241.3,354.8 L241.2,355.2 L240.8,356.0 L240.5,356.4 L240.3,356.8 L240.0,357.2 L239.6,357.9 L239.3,358.4 L239.1,358.8 L238.7,359.2 L238.3,359.6 L237.6,360.0 L237.2,360.2 L236.8,360.4 L236.3,360.8 L235.8,361.2 L235.3,361.6 L234.8,362.0 L234.4,362.3 L234.0,362.6 L233.5,362.8 L232.8,363.1 L232.4,363.3 L231.6,363.4 L230.8,363.5 L230.4,363.6 L229.6,363.8 L228.8,363.9 L228.0,363.8 L227.6,363.5 L227.3,362.8 L227.2,362.4 L227.2,361.6 L227.2,361.2 L227.5,360.4 L227.7,360.0 L228.0,359.4 L228.2,358.8 L228.4,358.1 L228.6,357.6 L228.8,357.1 L229.2,356.6 L229.6,356.1 L230.0,355.7 L230.4,355.2 L230.7,354.8 L230.9,354.4 L231.2,354.0 L231.6,353.5 L232.0,353.1 L232.4,352.8 L232.8,352.4 L233.2,351.9 L233.6,351.5 L234.0,351.1 L234.4,350.8 L235.2,350.5 L235.6,350.3 L236.2,350.0 L236.7,349.6 L237.0,349.2 L237.3,348.8 L237.7,348.4 L238.4,348.0 L238.8,347.9 L239.6,347.7 L240.0,347.6 L240.8,347.5 L241.4,347.2 L241.4,347.2" stroke="#111" stroke-width="0.75" fill="none" stroke-linejoin="round" stroke-linecap="round"/>
<path d="M254.2,323.6 L254.7,323.6 L255.0,324.0 L255.0,324.8 L255.2,325.3 L256.0,325.5 L256.4,325.8 L256.7,326.4 L256.7,327.2 L256.4,328.0 L256.3,328.4 L256.0,328.9 L255.6,329.3 L254.8,329.4 L254.0,329.4 L253.2,329.4 L252.8,329.2 L252.4,328.6 L252.1,328.0 L251.9,327.6 L251.7,326.8 L251.8,326.0 L252.0,325.5 L252.4,325.0 L252.8,324.6 L253.2,324.2 L253.6,323.9 L254.2,323.6 L254.2,323.6" stroke="#111" stroke-width="0.75" fill="none" stroke-linejoin="round" stroke-linecap="round"/>
<path d="M238.7,348.4 L239.2,348.3 L239.6,348.5 L240.0,349.1 L240.4,349.3 L241.2,349.3 L241.8,349.6 L242.1,350.0 L242.4,350.8 L242.4,351.2 L242.4,351.7 L242.1,352.4 L241.8,352.8 L241.5,353.2 L241.2,353.7 L240.9,354.4 L240.8,354.8 L240.5,355.6 L240.2,356.0 L239.9,356.4 L239.6,357.0 L239.4,357.6 L239.2,358.0 L238.8,358.7 L238.4,359.1 L238.0,359.5 L237.6,359.7 L237.1,360.0 L236.4,360.4 L236.0,360.7 L235.6,361.0 L235.2,361.4 L234.8,361.8 L234.4,362.0 L233.8,362.4 L233.2,362.6 L232.4,362.8 L231.6,362.7 L231.0,362.8 L230.4,363.1 L230.0,363.2 L229.2,363.5 L228.4,363.5 L227.9,363.2 L227.6,362.5 L227.5,362.0 L227.6,361.4 L227.8,360.8 L228.0,360.3 L228.3,359.6 L228.5,359.2 L228.7,358.4 L228.8,357.9 L229.1,357.2 L229.4,356.8 L229.8,356.4 L230.2,356.0 L230.5,355.6 L230.8,355.1 L231.2,354.5 L231.5,354.0 L231.9,353.6 L232.3,353.2 L232.8,352.8 L233.2,352.4 L233.6,352.0 L234.0,351.7 L234.4,351.4 L234.8,351.1 L235.5,350.8 L236.0,350.6 L236.4,350.4 L237.0,350.0 L237.3,349.6 L237.6,349.2 L238.0,348.8 L238.7,348.4 L238.7,348.4" stroke="#111" stroke-width="0.75" fill="none" stroke-linejoin="round" stroke-linecap="round"/>
<path d="M252.5,326.0 L253.0,326.0 L253.2,326.5 L254.0,326.6 L254.5,326.4 L255.2,326.0 L255.6,326.0 L256.0,326.0 L256.4,326.6 L256.4,327.0 L256.3,327.6 L256.0,328.2 L255.6,328.7 L255.2,329.0 L254.4,329.1 L253.6,329.1 L253.0,328.8 L252.8,328.4 L252.6,327.6 L252.4,327.0 L252.3,326.4 L252.5,326.0 L252.5,326.0" stroke="#111" stroke-width="0.75" fill="none" stroke-linejoin="round" stroke-linecap="round"/>
<path d="M240.7,350.0 L241.2,350.0 L241.6,350.3 L241.9,350.8 L241.9,351.6 L241.6,352.2 L241.2,352.8 L240.9,353.2 L240.7,353.6 L240.4,354.4 L240.2,354.8 L240.0,355.3 L239.6,355.9 L239.3,356.4 L239.2,356.8 L239.0,357.6 L238.8,358.1 L238.4,358.8 L238.0,359.1 L237.6,359.4 L237.2,359.7 L236.5,360.0 L236.0,360.4 L235.6,360.7 L235.2,361.1 L234.8,361.5 L234.4,361.8 L234.0,362.0 L233.2,362.3 L232.4,362.3 L231.6,362.1 L230.8,362.3 L230.4,362.6 L230.0,362.8 L229.2,363.1 L228.4,363.0 L228.0,362.5 L227.9,362.0 L228.0,361.3 L228.2,360.8 L228.4,360.4 L228.8,359.6 L228.9,359.2 L229.1,358.4 L229.2,357.9 L229.6,357.2 L229.9,356.8 L230.3,356.4 L230.6,356.0 L230.8,355.6 L231.2,354.9 L231.5,354.4 L231.8,354.0 L232.2,353.6 L232.6,353.2 L233.1,352.8 L233.6,352.4 L234.0,352.1 L234.4,351.8 L234.8,351.6 L235.5,351.2 L236.0,351.0 L236.8,350.8 L237.2,350.7 L238.0,350.8 L238.1,350.8 L238.8,350.7 L239.5,350.4 L240.0,350.2 L240.7,350.0 L240.7,350.0" stroke="#111" stroke-width="0.75" fill="none" stroke-linejoin="round" stroke-linecap="round"/>
<path d="M254.5,326.8 L255.2,326.5 L256.0,326.8 L256.0,327.2 L255.9,327.6 L255.6,328.2 L255.2,328.6 L254.7,328.8 L254.0,328.9 L253.6,328.7 L253.2,328.0 L253.6,327.4 L254.0,327.1 L254.5,326.8 L254.5,326.8" stroke="#111" stroke-width="0.75" fill="none" stroke-linejoin="round" stroke-linecap="round"/>
<path d="M239.9,350.8 L240.4,350.6 L241.2,350.8 L241.3,351.2 L241.2,351.8 L240.9,352.4 L240.7,352.8 L240.4,353.3 L240.1,354.0 L239.9,354.4 L239.6,355.0 L239.2,355.4 L238.8,355.8 L238.4,356.4 L238.6,357.2 L238.5,358.0 L238.3,358.4 L238.0,358.8 L237.5,359.2 L236.8,359.6 L236.4,359.8 L236.0,360.0 L235.6,360.4 L235.2,360.8 L234.8,361.2 L234.3,361.6 L233.6,361.9 L233.2,362.0 L232.7,362.0 L232.0,361.8 L231.2,361.8 L230.7,362.0 L230.0,362.4 L229.6,362.6 L228.8,362.7 L228.4,362.4 L228.3,361.6 L228.4,361.2 L228.8,360.5 L229.0,360.0 L229.2,359.6 L229.4,358.8 L229.6,358.0 L229.8,357.6 L230.1,357.2 L230.4,356.8 L230.8,356.3 L231.1,355.6 L231.3,355.2 L231.6,354.7 L232.0,354.1 L232.4,353.7 L232.8,353.3 L233.2,353.0 L233.6,352.8 L234.1,352.4 L234.8,352.0 L235.2,351.8 L235.6,351.6 L236.4,351.4 L237.2,351.4 L238.0,351.4 L238.8,351.2 L239.2,351.1 L239.9,350.8 L239.9,350.8" stroke="#111" stroke-width="0.75" fill="none" stroke-linejoin="round" stroke-linecap="round"/>
<path d="M254.6,327.2 L255.2,327.0 L255.5,327.6 L255.2,328.1 L254.8,328.4 L254.0,328.4 L253.8,328.0 L254.0,327.6 L254.6,327.2 L254.6,327.2" stroke="#111" stroke-width="0.75" fill="none" stroke-linejoin="round" stroke-linecap="round"/>
<path d="M238.5,351.6 L239.2,351.5 L240.0,351.3 L240.5,351.6 L240.4,352.3 L240.3,352.8 L240.0,353.5 L239.8,354.0 L239.6,354.4 L239.2,354.9 L238.8,355.2 L238.3,355.6 L237.7,356.0 L237.4,356.4 L237.6,357.0 L238.0,357.2 L238.1,358.0 L237.9,358.4 L237.6,358.8 L236.9,359.2 L236.4,359.4 L236.0,359.6 L235.5,360.0 L235.2,360.4 L234.8,360.9 L234.4,361.3 L233.8,361.6 L233.2,361.7 L232.6,361.6 L232.0,361.4 L231.2,361.5 L230.8,361.6 L230.0,362.0 L229.6,362.2 L228.8,362.1 L228.7,361.6 L228.8,361.2 L229.2,360.5 L229.5,360.0 L229.6,359.6 L229.9,358.8 L230.0,358.4 L230.4,357.7 L230.8,357.2 L231.0,356.8 L231.2,356.3 L231.4,355.6 L231.6,355.1 L232.0,354.4 L232.4,354.0 L232.8,353.6 L233.2,353.3 L233.6,353.1 L234.1,352.8 L234.8,352.4 L235.2,352.3 L236.0,352.1 L236.4,352.0 L237.2,351.8 L238.0,351.7 L238.5,351.6 L238.5,351.6" stroke="#111" stroke-width="0.75" fill="none" stroke-linejoin="round" stroke-linecap="round"/>
<path d="M237.8,352.0 L238.4,351.9 L239.2,351.8 L239.8,352.0 L239.9,352.8 L239.7,353.6 L239.5,354.0 L239.2,354.5 L238.8,354.9 L238.4,355.2 L237.7,355.6 L237.2,356.0 L236.9,356.4 L236.6,356.8 L236.3,357.2 L236.0,357.7 L235.6,358.0 L235.2,358.5 L235.0,359.2 L235.0,360.0 L234.8,360.4 L234.4,360.9 L234.0,361.2 L233.2,361.4 L232.4,361.2 L232.0,361.1 L231.2,361.2 L230.8,361.3 L230.0,361.5 L229.6,361.6 L229.4,361.2 L229.6,360.7 L229.9,360.0 L230.0,359.6 L230.3,358.8 L230.5,358.4 L230.8,358.0 L231.2,357.5 L231.5,356.8 L231.6,356.1 L231.7,355.6 L232.0,354.8 L232.3,354.4 L232.6,354.0 L233.2,353.6 L233.6,353.4 L234.0,353.2 L234.8,353.0 L235.6,352.9 L236.0,352.7 L236.6,352.4 L237.2,352.2 L237.8,352.0 L237.8,352.0" stroke="#111" stroke-width="0.75" fill="none" stroke-linejoin="round" stroke-linecap="round"/>
<path d="M236.6,358.0 L237.2,357.8 L237.3,358.4 L236.8,358.7 L236.6,358.0 L236.6,358.0" stroke="#111" stroke-width="0.75" fill="none" stroke-linejoin="round" stroke-linecap="round"/>
<path d="M237.3,352.4 L238.0,352.2 L238.8,352.1 L239.5,352.4 L239.5,353.2 L239.2,354.0 L238.9,354.4 L238.5,354.8 L238.0,355.2 L237.6,355.4 L237.2,355.7 L236.8,356.1 L236.4,356.6 L236.0,357.1 L235.6,357.5 L235.2,357.9 L234.8,358.4 L234.6,358.8 L234.4,359.6 L234.4,360.1 L234.0,360.8 L233.6,361.0 L232.8,360.9 L232.0,360.9 L231.2,360.9 L230.4,360.9 L230.2,360.4 L230.3,359.6 L230.5,359.2 L230.8,358.6 L231.2,358.1 L231.6,357.6 L231.8,357.2 L231.9,356.4 L232.0,355.6 L232.1,355.2 L232.4,354.6 L232.8,354.1 L233.2,353.9 L233.8,353.6 L234.4,353.5 L234.8,353.6 L235.4,353.6 L236.0,353.3 L236.4,352.9 L236.8,352.6 L237.3,352.4 L237.3,352.4" stroke="#111" stroke-width="0.75" fill="none" stroke-linejoin="round" stroke-linecap="round"/>
<path d="M238.1,352.4 L238.8,352.4 L239.2,352.7 L239.3,353.2 L239.2,353.6 L238.8,354.2 L238.4,354.6 L238.0,354.9 L237.6,355.2 L237.0,355.6 L236.5,356.0 L236.2,356.4 L235.9,356.8 L235.6,357.2 L235.2,357.6 L234.8,358.0 L234.4,358.6 L234.1,359.2 L234.0,359.6 L233.6,360.4 L233.2,360.6 L232.4,360.6 L231.6,360.6 L230.8,360.4 L230.6,360.0 L230.8,359.2 L231.0,358.8 L231.3,358.4 L231.6,358.0 L232.0,357.4 L232.2,356.8 L232.3,356.0 L232.3,355.2 L232.5,354.8 L232.9,354.4 L233.5,354.0 L234.0,353.9 L234.4,354.0 L235.2,354.1 L235.6,354.0 L236.1,353.6 L236.5,353.2 L237.0,352.8 L237.6,352.5 L238.1,352.4 L238.1,352.4" stroke="#111" stroke-width="0.75" fill="none" stroke-linejoin="round" stroke-linecap="round"/>
<ellipse cx="253.8" cy="328" rx="10.4" ry="12.1" fill="none" stroke="#222" stroke-width="0.7" transform="rotate(12 253.8 328)"/>
</g>
<g clip-path="url(#cD2)">
<path d="M241.1,405.6 L241.6,405.5 L242.4,405.5 L243.0,405.6 L243.6,405.7 L244.2,406.0 L244.6,406.4 L244.6,407.2 L244.5,408.0 L244.4,408.4 L244.3,409.2 L244.3,410.0 L244.1,410.8 L244.0,411.2 L243.7,412.0 L243.5,412.4 L243.2,413.2 L243.1,413.6 L242.8,414.2 L242.4,414.8 L242.2,415.2 L241.9,415.6 L241.6,416.1 L241.2,416.7 L240.9,417.2 L240.5,417.6 L240.0,418.0 L239.6,418.3 L239.2,418.6 L238.8,418.8 L238.3,419.2 L237.9,419.6 L237.5,420.0 L237.0,420.4 L236.4,420.8 L236.0,421.1 L235.6,421.3 L234.9,421.6 L234.4,421.9 L234.0,422.0 L233.2,422.4 L232.8,422.5 L232.1,422.8 L231.6,423.0 L231.0,423.2 L230.4,423.4 L229.6,423.6 L229.2,423.6 L228.4,423.7 L227.6,423.7 L226.8,423.8 L226.0,423.9 L225.2,423.9 L224.4,423.8 L224.0,423.6 L223.2,423.3 L222.8,423.2 L222.0,422.9 L221.6,422.7 L221.2,422.4 L220.8,421.7 L220.7,421.2 L220.7,420.4 L220.8,419.9 L220.9,419.2 L221.1,418.4 L221.3,418.0 L221.6,417.4 L222.0,416.9 L222.4,416.6 L222.8,416.2 L223.2,416.0 L223.7,415.6 L224.1,415.2 L224.5,414.8 L224.9,414.4 L225.3,414.0 L225.8,413.6 L226.4,413.2 L226.8,413.0 L227.2,412.8 L227.8,412.4 L228.3,412.0 L228.7,411.6 L229.1,411.2 L229.6,410.8 L230.0,410.5 L230.4,410.3 L231.0,410.0 L231.6,409.8 L232.3,409.6 L232.8,409.4 L233.4,409.2 L234.0,408.9 L234.4,408.7 L235.2,408.4 L235.6,408.2 L236.1,408.0 L236.8,407.7 L237.2,407.4 L237.7,407.2 L238.4,406.8 L238.8,406.6 L239.2,406.4 L240.0,406.0 L240.4,405.8 L241.1,405.6 L241.1,405.6" stroke="#222" stroke-width="0.55" fill="none" stroke-linejoin="round" stroke-linecap="round"/>
<path d="M240.5,406.8 L241.2,406.6 L242.0,406.5 L242.8,406.6 L243.3,406.8 L243.6,407.4 L243.6,408.0 L243.5,408.4 L243.4,409.2 L243.2,410.0 L243.1,410.4 L242.8,411.0 L242.6,411.6 L242.4,412.0 L242.1,412.8 L242.0,413.2 L241.6,414.0 L241.3,414.4 L241.0,414.8 L240.7,415.2 L240.4,415.7 L240.0,416.4 L239.8,416.8 L239.5,417.2 L239.1,417.6 L238.6,418.0 L238.1,418.4 L237.6,418.8 L237.2,419.2 L236.8,419.6 L236.4,419.9 L236.0,420.3 L235.6,420.6 L235.2,420.8 L234.4,421.2 L234.0,421.4 L233.4,421.6 L232.8,421.8 L232.0,422.0 L231.6,422.2 L230.9,422.4 L230.4,422.6 L229.6,422.8 L229.2,422.9 L228.4,423.0 L227.6,423.1 L226.8,423.2 L226.4,423.3 L225.6,423.3 L225.1,423.2 L224.4,423.0 L224.0,422.8 L223.2,422.5 L222.8,422.3 L222.2,422.0 L221.8,421.6 L221.6,420.8 L221.8,420.0 L222.0,419.2 L222.0,418.8 L222.3,418.0 L222.5,417.6 L222.8,417.2 L223.3,416.8 L223.7,416.4 L224.2,416.0 L224.6,415.6 L225.0,415.2 L225.4,414.8 L225.8,414.4 L226.4,414.0 L226.8,413.7 L227.2,413.5 L227.8,413.2 L228.4,412.8 L228.8,412.6 L229.2,412.2 L229.6,411.9 L230.0,411.5 L230.5,411.2 L231.2,410.9 L231.6,410.7 L232.4,410.5 L232.9,410.4 L233.6,410.2 L234.1,410.0 L234.8,409.7 L235.2,409.5 L235.8,409.2 L236.4,408.8 L236.8,408.6 L237.2,408.3 L237.8,408.0 L238.4,407.7 L238.8,407.5 L239.5,407.2 L240.0,407.0 L240.5,406.8 L240.5,406.8" stroke="#222" stroke-width="0.55" fill="none" stroke-linejoin="round" stroke-linecap="round"/>
<path d="M241.0,407.6 L241.6,407.5 L242.4,407.6 L242.7,408.0 L242.7,408.8 L242.5,409.6 L242.3,410.0 L242.0,410.6 L241.6,411.1 L241.3,411.6 L241.2,412.0 L240.9,412.8 L240.8,413.2 L240.4,414.0 L240.1,414.4 L239.8,414.8 L239.6,415.2 L239.2,415.9 L239.0,416.4 L238.7,416.8 L238.4,417.2 L238.0,417.6 L237.5,418.0 L237.0,418.4 L236.6,418.8 L236.2,419.2 L235.8,419.6 L235.4,420.0 L234.8,420.4 L234.4,420.6 L234.0,420.8 L233.2,421.1 L232.7,421.2 L232.0,421.4 L231.2,421.6 L230.8,421.7 L230.0,422.0 L229.6,422.1 L228.8,422.3 L228.4,422.4 L227.6,422.5 L226.8,422.7 L226.0,422.7 L225.2,422.6 L224.7,422.4 L224.0,422.0 L223.6,421.8 L223.2,421.6 L222.7,421.2 L222.5,420.4 L222.7,419.6 L222.8,419.2 L223.0,418.4 L223.2,418.0 L223.6,417.4 L224.0,417.0 L224.4,416.6 L224.8,416.2 L225.2,415.8 L225.6,415.4 L226.0,415.1 L226.4,414.7 L226.9,414.4 L227.6,414.0 L228.0,413.8 L228.4,413.6 L229.2,413.2 L229.6,412.9 L230.0,412.7 L230.5,412.4 L231.1,412.0 L231.6,411.8 L232.0,411.6 L232.8,411.2 L233.2,411.1 L234.0,410.8 L234.4,410.7 L235.2,410.5 L235.6,410.3 L236.3,410.0 L236.8,409.7 L237.2,409.4 L237.6,409.1 L238.1,408.8 L238.8,408.5 L239.2,408.3 L240.0,408.0 L240.4,407.8 L241.0,407.6 L241.0,407.6" stroke="#222" stroke-width="0.55" fill="none" stroke-linejoin="round" stroke-linecap="round"/>
<path d="M240.6,408.8 L241.2,408.6 L241.7,408.8 L241.6,409.5 L241.2,410.0 L240.8,410.3 L240.4,410.6 L240.0,410.8 L239.8,411.6 L239.9,412.4 L239.8,413.2 L239.6,413.8 L239.3,414.4 L239.0,414.8 L238.8,415.2 L238.4,416.0 L238.2,416.4 L237.9,416.8 L237.6,417.2 L237.1,417.6 L236.6,418.0 L236.2,418.4 L235.8,418.8 L235.4,419.2 L235.0,419.6 L234.6,420.0 L234.0,420.3 L233.6,420.5 L232.8,420.7 L232.3,420.8 L231.6,421.0 L230.8,421.2 L230.4,421.4 L229.8,421.6 L229.2,421.8 L228.4,422.0 L228.0,422.0 L227.2,422.2 L226.4,422.2 L225.6,422.1 L225.2,422.0 L224.5,421.6 L224.0,421.3 L223.6,420.9 L223.4,420.4 L223.4,419.6 L223.6,418.8 L223.7,418.4 L224.0,417.8 L224.4,417.3 L224.8,416.9 L225.2,416.5 L225.6,416.1 L226.0,415.8 L226.4,415.4 L226.8,415.1 L227.3,414.8 L228.0,414.4 L228.4,414.2 L228.8,414.0 L229.6,413.6 L230.0,413.4 L230.6,413.2 L231.2,412.9 L231.6,412.7 L232.0,412.4 L232.7,412.0 L233.2,411.7 L233.6,411.6 L234.4,411.3 L235.1,411.2 L235.6,411.1 L236.4,411.0 L237.2,410.8 L237.6,410.7 L238.3,410.4 L238.8,410.1 L239.2,409.9 L239.6,409.5 L240.0,409.2 L240.6,408.8 L240.6,408.8" stroke="#111" stroke-width="0.75" fill="none" stroke-linejoin="round" stroke-linecap="round"/>
<path d="M233.9,412.0 L234.4,411.9 L235.2,411.9 L235.6,412.0 L236.4,412.3 L237.2,412.1 L238.0,412.1 L238.7,412.4 L239.0,412.8 L238.9,413.6 L238.8,414.0 L238.4,414.7 L238.2,415.2 L238.0,415.6 L237.6,416.3 L237.3,416.8 L236.9,417.2 L236.4,417.6 L236.0,418.0 L235.6,418.4 L235.2,418.8 L234.8,419.2 L234.4,419.6 L234.0,419.9 L233.6,420.1 L232.8,420.3 L232.4,420.4 L231.6,420.6 L231.1,420.8 L230.4,421.1 L230.0,421.2 L229.2,421.5 L228.4,421.6 L228.0,421.7 L227.2,421.8 L226.4,421.7 L225.8,421.6 L225.2,421.3 L224.8,421.0 L224.4,420.7 L224.0,420.1 L223.9,419.6 L224.0,419.1 L224.2,418.4 L224.4,418.0 L224.8,417.4 L225.2,417.0 L225.6,416.7 L226.0,416.3 L226.4,416.0 L227.0,415.6 L227.6,415.2 L228.0,414.9 L228.4,414.7 L228.9,414.4 L229.6,414.1 L230.0,413.9 L230.8,413.6 L231.2,413.4 L231.6,413.2 L232.3,412.8 L232.8,412.5 L233.2,412.3 L233.9,412.0 L233.9,412.0" stroke="#111" stroke-width="0.75" fill="none" stroke-linejoin="round" stroke-linecap="round"/>
<path d="M233.2,412.8 L233.6,412.6 L234.4,412.5 L234.9,412.8 L235.2,413.5 L235.6,414.0 L236.0,414.1 L236.5,414.0 L237.2,413.6 L237.6,413.5 L237.8,414.0 L237.6,414.8 L237.5,415.2 L237.2,416.0 L237.0,416.4 L236.7,416.8 L236.4,417.2 L235.9,417.6 L235.5,418.0 L235.1,418.4 L234.7,418.8 L234.3,419.2 L233.8,419.6 L233.2,419.9 L232.8,420.0 L232.0,420.2 L231.5,420.4 L230.8,420.7 L230.4,420.8 L229.6,421.1 L229.1,421.2 L228.4,421.3 L227.6,421.4 L226.8,421.3 L226.4,421.2 L225.6,420.8 L225.2,420.6 L224.8,420.3 L224.4,419.6 L224.5,418.8 L224.8,418.0 L225.1,417.6 L225.5,417.2 L226.0,416.8 L226.4,416.5 L226.8,416.2 L227.2,416.0 L227.7,415.6 L228.3,415.2 L228.8,414.9 L229.2,414.6 L229.7,414.4 L230.4,414.1 L230.8,413.9 L231.6,413.6 L232.0,413.4 L232.4,413.2 L233.2,412.8 L233.2,412.8" stroke="#111" stroke-width="0.75" fill="none" stroke-linejoin="round" stroke-linecap="round"/>
<path d="M232.4,413.6 L233.2,413.3 L234.0,413.3 L234.4,413.6 L234.8,414.1 L235.2,414.5 L235.9,414.8 L236.4,415.0 L236.7,415.6 L236.5,416.4 L236.2,416.8 L235.9,417.2 L235.5,417.6 L235.1,418.0 L234.7,418.4 L234.3,418.8 L233.8,419.2 L233.2,419.5 L232.8,419.7 L232.0,420.0 L231.6,420.1 L230.9,420.4 L230.4,420.6 L229.8,420.8 L229.2,421.0 L228.4,421.0 L227.6,421.0 L226.9,420.8 L226.4,420.6 L226.0,420.4 L225.4,420.0 L225.0,419.6 L224.9,418.8 L225.2,418.0 L225.5,417.6 L225.9,417.2 L226.4,416.9 L226.8,416.6 L227.2,416.4 L227.8,416.0 L228.4,415.6 L228.8,415.3 L229.2,415.0 L229.6,414.8 L230.4,414.4 L230.8,414.2 L231.4,414.0 L232.0,413.8 L232.4,413.6 L232.4,413.6" stroke="#111" stroke-width="0.75" fill="none" stroke-linejoin="round" stroke-linecap="round"/>
<path d="M232.2,414.0 L232.8,413.8 L233.6,413.8 L234.0,414.0 L234.4,414.4 L235.0,414.8 L235.6,415.2 L236.0,415.5 L236.1,416.0 L236.0,416.5 L235.6,417.1 L235.2,417.5 L234.8,417.9 L234.4,418.3 L234.0,418.6 L233.6,418.9 L233.2,419.2 L232.4,419.5 L232.0,419.7 L231.3,420.0 L230.8,420.2 L230.4,420.4 L229.6,420.7 L228.8,420.8 L228.0,420.7 L227.2,420.4 L226.8,420.2 L226.4,420.0 L225.6,419.6 L225.3,419.2 L225.3,418.4 L225.6,417.9 L226.0,417.5 L226.5,417.2 L227.2,416.8 L227.6,416.6 L228.0,416.3 L228.4,416.0 L228.9,415.6 L229.4,415.2 L230.0,414.9 L230.4,414.7 L231.1,414.4 L231.6,414.2 L232.2,414.0 L232.2,414.0" stroke="#111" stroke-width="0.75" fill="none" stroke-linejoin="round" stroke-linecap="round"/>
<path d="M231.9,414.4 L232.4,414.2 L233.2,414.2 L233.8,414.4 L234.4,414.8 L234.8,415.1 L235.2,415.3 L235.6,415.8 L235.6,416.4 L235.4,416.8 L235.1,417.2 L234.8,417.6 L234.3,418.0 L233.9,418.4 L233.3,418.8 L232.8,419.1 L232.4,419.3 L231.7,419.6 L231.2,419.9 L230.8,420.0 L230.0,420.4 L229.6,420.5 L228.8,420.6 L228.0,420.4 L227.6,420.2 L227.2,420.0 L226.5,419.6 L226.0,419.3 L225.7,418.8 L226.0,418.0 L226.4,417.6 L226.8,417.3 L227.2,417.1 L227.8,416.8 L228.4,416.4 L228.8,416.0 L229.2,415.7 L229.6,415.4 L230.0,415.1 L230.7,414.8 L231.2,414.6 L231.9,414.4 L231.9,414.4" stroke="#111" stroke-width="0.75" fill="none" stroke-linejoin="round" stroke-linecap="round"/>
<path d="M231.4,414.8 L232.0,414.6 L232.8,414.5 L233.6,414.7 L234.0,414.9 L234.5,415.2 L235.0,415.6 L235.3,416.0 L235.2,416.6 L234.8,417.2 L234.4,417.6 L234.0,418.0 L233.6,418.3 L233.2,418.6 L232.8,418.8 L232.1,419.2 L231.6,419.4 L231.2,419.7 L230.5,420.0 L230.0,420.2 L229.2,420.3 L228.4,420.3 L227.8,420.0 L227.2,419.6 L226.8,419.3 L226.4,419.1 L226.2,418.4 L226.4,418.0 L226.9,417.6 L227.6,417.2 L228.0,417.0 L228.4,416.7 L228.8,416.4 L229.2,416.0 L229.7,415.6 L230.4,415.2 L230.8,415.0 L231.4,414.8 L231.4,414.8" stroke="#111" stroke-width="0.75" fill="none" stroke-linejoin="round" stroke-linecap="round"/>
<path d="M231.0,415.2 L231.6,415.0 L232.4,414.8 L233.2,414.9 L233.9,415.2 L234.4,415.5 L234.8,415.9 L234.9,416.4 L234.8,416.8 L234.4,417.3 L234.0,417.7 L233.6,418.0 L232.9,418.4 L232.4,418.7 L232.0,419.0 L231.6,419.2 L231.0,419.6 L230.4,419.9 L230.0,420.0 L229.2,420.2 L228.4,420.0 L228.0,419.8 L227.6,419.5 L227.2,419.2 L226.8,418.8 L226.8,418.2 L227.2,417.8 L227.6,417.5 L228.2,417.2 L228.8,416.8 L229.2,416.4 L229.6,416.1 L230.0,415.7 L230.4,415.5 L231.0,415.2 L231.0,415.2" stroke="#111" stroke-width="0.75" fill="none" stroke-linejoin="round" stroke-linecap="round"/>
<path d="M231.9,415.2 L232.4,415.1 L233.2,415.2 L233.6,415.3 L234.1,415.6 L234.5,416.0 L234.5,416.8 L234.2,417.2 L233.7,417.6 L233.2,417.9 L232.8,418.2 L232.4,418.4 L231.8,418.8 L231.3,419.2 L230.8,419.5 L230.4,419.7 L229.6,419.9 L228.8,419.9 L228.2,419.6 L227.7,419.2 L227.4,418.8 L227.6,418.0 L228.0,417.7 L228.4,417.4 L228.8,417.1 L229.2,416.8 L229.7,416.4 L230.2,416.0 L230.8,415.6 L231.2,415.4 L231.9,415.2 L231.9,415.2" stroke="#111" stroke-width="0.75" fill="none" stroke-linejoin="round" stroke-linecap="round"/>
<ellipse cx="253.9" cy="384.1" rx="10.6" ry="12.2" fill="none" stroke="#222" stroke-width="0.75" transform="rotate(-18 253.9 384.1)"/>
</g>
<line x1="303.50" y1="334.54" x2="303.50" y2="422.12" stroke="#000" stroke-width="1.25" stroke-linecap="butt"/>
<line x1="302.88" y1="421.50" x2="341.10" y2="421.50" stroke="#000" stroke-width="1.25" stroke-linecap="butt"/>
<line x1="300.80" y1="421.50" x2="303.50" y2="421.50" stroke="#000" stroke-width="1.0" stroke-linecap="butt"/>
<text transform="translate(300.86,421.50) rotate(-90)" font-size="6.3" text-anchor="middle" font-weight="normal" fill="#151515" stroke="#151515" stroke-width="0.18">0</text>
<line x1="300.80" y1="399.76" x2="303.50" y2="399.76" stroke="#000" stroke-width="1.0" stroke-linecap="butt"/>
<text transform="translate(300.86,399.76) rotate(-90)" font-size="6.3" text-anchor="middle" font-weight="normal" fill="#151515" stroke="#151515" stroke-width="0.18">2</text>
<line x1="300.80" y1="378.02" x2="303.50" y2="378.02" stroke="#000" stroke-width="1.0" stroke-linecap="butt"/>
<text transform="translate(300.86,378.02) rotate(-90)" font-size="6.3" text-anchor="middle" font-weight="normal" fill="#151515" stroke="#151515" stroke-width="0.18">4</text>
<line x1="300.80" y1="356.28" x2="303.50" y2="356.28" stroke="#000" stroke-width="1.0" stroke-linecap="butt"/>
<text transform="translate(300.86,356.28) rotate(-90)" font-size="6.3" text-anchor="middle" font-weight="normal" fill="#151515" stroke="#151515" stroke-width="0.18">6</text>
<line x1="300.80" y1="334.54" x2="303.50" y2="334.54" stroke="#000" stroke-width="1.0" stroke-linecap="butt"/>
<text transform="translate(300.86,334.54) rotate(-90)" font-size="6.3" text-anchor="middle" font-weight="normal" fill="#151515" stroke="#151515" stroke-width="0.18">8</text>
<clipPath id="hD"><rect x="304.2" y="397.8" width="36.4" height="10.7"/></clipPath>
<g clip-path="url(#hD)">
<line x1="272.00" y1="397.00" x2="284.50" y2="409.50" stroke="#868686" stroke-width="0.55" stroke-linecap="butt"/>
<line x1="274.00" y1="397.00" x2="286.50" y2="409.50" stroke="#868686" stroke-width="0.55" stroke-linecap="butt"/>
<line x1="276.00" y1="397.00" x2="288.50" y2="409.50" stroke="#868686" stroke-width="0.55" stroke-linecap="butt"/>
<line x1="278.00" y1="397.00" x2="290.50" y2="409.50" stroke="#868686" stroke-width="0.55" stroke-linecap="butt"/>
<line x1="280.00" y1="397.00" x2="292.50" y2="409.50" stroke="#868686" stroke-width="0.55" stroke-linecap="butt"/>
<line x1="282.00" y1="397.00" x2="294.50" y2="409.50" stroke="#868686" stroke-width="0.55" stroke-linecap="butt"/>
<line x1="284.00" y1="397.00" x2="296.50" y2="409.50" stroke="#868686" stroke-width="0.55" stroke-linecap="butt"/>
<line x1="286.00" y1="397.00" x2="298.50" y2="409.50" stroke="#868686" stroke-width="0.55" stroke-linecap="butt"/>
<line x1="288.00" y1="397.00" x2="300.50" y2="409.50" stroke="#868686" stroke-width="0.55" stroke-linecap="butt"/>
<line x1="290.00" y1="397.00" x2="302.50" y2="409.50" stroke="#868686" stroke-width="0.55" stroke-linecap="butt"/>
<line x1="292.00" y1="397.00" x2="304.50" y2="409.50" stroke="#868686" stroke-width="0.55" stroke-linecap="butt"/>
<line x1="294.00" y1="397.00" x2="306.50" y2="409.50" stroke="#868686" stroke-width="0.55" stroke-linecap="butt"/>
<line x1="296.00" y1="397.00" x2="308.50" y2="409.50" stroke="#868686" stroke-width="0.55" stroke-linecap="butt"/>
<line x1="298.00" y1="397.00" x2="310.50" y2="409.50" stroke="#868686" stroke-width="0.55" stroke-linecap="butt"/>
<line x1="300.00" y1="397.00" x2="312.50" y2="409.50" stroke="#868686" stroke-width="0.55" stroke-linecap="butt"/>
<line x1="302.00" y1="397.00" x2="314.50" y2="409.50" stroke="#868686" stroke-width="0.55" stroke-linecap="butt"/>
<line x1="304.00" y1="397.00" x2="316.50" y2="409.50" stroke="#868686" stroke-width="0.55" stroke-linecap="butt"/>
<line x1="306.00" y1="397.00" x2="318.50" y2="409.50" stroke="#868686" stroke-width="0.55" stroke-linecap="butt"/>
<line x1="308.00" y1="397.00" x2="320.50" y2="409.50" stroke="#868686" stroke-width="0.55" stroke-linecap="butt"/>
<line x1="310.00" y1="397.00" x2="322.50" y2="409.50" stroke="#868686" stroke-width="0.55" stroke-linecap="butt"/>
<line x1="312.00" y1="397.00" x2="324.50" y2="409.50" stroke="#868686" stroke-width="0.55" stroke-linecap="butt"/>
<line x1="314.00" y1="397.00" x2="326.50" y2="409.50" stroke="#868686" stroke-width="0.55" stroke-linecap="butt"/>
<line x1="316.00" y1="397.00" x2="328.50" y2="409.50" stroke="#868686" stroke-width="0.55" stroke-linecap="butt"/>
<line x1="318.00" y1="397.00" x2="330.50" y2="409.50" stroke="#868686" stroke-width="0.55" stroke-linecap="butt"/>
<line x1="320.00" y1="397.00" x2="332.50" y2="409.50" stroke="#868686" stroke-width="0.55" stroke-linecap="butt"/>
<line x1="322.00" y1="397.00" x2="334.50" y2="409.50" stroke="#868686" stroke-width="0.55" stroke-linecap="butt"/>
<line x1="324.00" y1="397.00" x2="336.50" y2="409.50" stroke="#868686" stroke-width="0.55" stroke-linecap="butt"/>
<line x1="326.00" y1="397.00" x2="338.50" y2="409.50" stroke="#868686" stroke-width="0.55" stroke-linecap="butt"/>
<line x1="328.00" y1="397.00" x2="340.50" y2="409.50" stroke="#868686" stroke-width="0.55" stroke-linecap="butt"/>
<line x1="330.00" y1="397.00" x2="342.50" y2="409.50" stroke="#868686" stroke-width="0.55" stroke-linecap="butt"/>
<line x1="332.00" y1="397.00" x2="344.50" y2="409.50" stroke="#868686" stroke-width="0.55" stroke-linecap="butt"/>
<line x1="334.00" y1="397.00" x2="346.50" y2="409.50" stroke="#868686" stroke-width="0.55" stroke-linecap="butt"/>
<line x1="336.00" y1="397.00" x2="348.50" y2="409.50" stroke="#868686" stroke-width="0.55" stroke-linecap="butt"/>
<line x1="338.00" y1="397.00" x2="350.50" y2="409.50" stroke="#868686" stroke-width="0.55" stroke-linecap="butt"/>
<line x1="340.00" y1="397.00" x2="352.50" y2="409.50" stroke="#868686" stroke-width="0.55" stroke-linecap="butt"/>
<line x1="342.00" y1="397.00" x2="354.50" y2="409.50" stroke="#868686" stroke-width="0.55" stroke-linecap="butt"/>
<line x1="344.00" y1="397.00" x2="356.50" y2="409.50" stroke="#868686" stroke-width="0.55" stroke-linecap="butt"/>
<line x1="346.00" y1="397.00" x2="358.50" y2="409.50" stroke="#868686" stroke-width="0.55" stroke-linecap="butt"/>
<line x1="348.00" y1="397.00" x2="360.50" y2="409.50" stroke="#868686" stroke-width="0.55" stroke-linecap="butt"/>
<line x1="350.00" y1="397.00" x2="362.50" y2="409.50" stroke="#868686" stroke-width="0.55" stroke-linecap="butt"/>
<line x1="352.00" y1="397.00" x2="364.50" y2="409.50" stroke="#868686" stroke-width="0.55" stroke-linecap="butt"/>
<line x1="354.00" y1="397.00" x2="366.50" y2="409.50" stroke="#868686" stroke-width="0.55" stroke-linecap="butt"/>
<line x1="356.00" y1="397.00" x2="368.50" y2="409.50" stroke="#868686" stroke-width="0.55" stroke-linecap="butt"/>
<line x1="358.00" y1="397.00" x2="370.50" y2="409.50" stroke="#868686" stroke-width="0.55" stroke-linecap="butt"/>
<line x1="360.00" y1="397.00" x2="372.50" y2="409.50" stroke="#868686" stroke-width="0.55" stroke-linecap="butt"/>
<line x1="362.00" y1="397.00" x2="374.50" y2="409.50" stroke="#868686" stroke-width="0.55" stroke-linecap="butt"/>
<line x1="364.00" y1="397.00" x2="376.50" y2="409.50" stroke="#868686" stroke-width="0.55" stroke-linecap="butt"/>
<line x1="366.00" y1="397.00" x2="378.50" y2="409.50" stroke="#868686" stroke-width="0.55" stroke-linecap="butt"/>
<line x1="368.00" y1="397.00" x2="380.50" y2="409.50" stroke="#868686" stroke-width="0.55" stroke-linecap="butt"/>
<line x1="370.00" y1="397.00" x2="382.50" y2="409.50" stroke="#868686" stroke-width="0.55" stroke-linecap="butt"/>
</g>
<line x1="309.90" y1="421.50" x2="309.90" y2="424.50" stroke="#000" stroke-width="1.0" stroke-linecap="butt"/>
<line x1="322.40" y1="421.50" x2="322.40" y2="424.50" stroke="#000" stroke-width="1.0" stroke-linecap="butt"/>
<line x1="335.30" y1="421.50" x2="335.30" y2="424.50" stroke="#000" stroke-width="1.0" stroke-linecap="butt"/>
<text transform="translate(313.11,424.70) rotate(-90)" font-size="7.0" text-anchor="end" fill="#151515" stroke="#151515" stroke-width="0.18">wt</text>
<text transform="translate(325.51,424.70) rotate(-90)" font-size="7.0" text-anchor="end" fill="#151515" stroke="#151515" stroke-width="0.18">CTR</text>
<text transform="translate(338.11,424.70) rotate(-90)" font-size="7.0" text-anchor="end" fill="#151515" stroke="#151515" stroke-width="0.18">shRNA</text>
<text transform="translate(292.91,402) rotate(-90)" font-size="7.3" text-anchor="start" fill="#151515" stroke="#151515" stroke-width="0.18">liver weight (gr)</text>
<path d="M309.90,340.60 L311.55,342.25 L309.90,343.90 L308.25,342.25 Z" fill="#fff" stroke="#000" stroke-width="1.05" stroke-linejoin="round"/>
<path d="M309.90,368.35 L311.55,370.00 L309.90,371.65 L308.25,370.00 Z" fill="#fff" stroke="#000" stroke-width="1.05" stroke-linejoin="round"/>
<path d="M309.90,371.10 L311.55,372.75 L309.90,374.40 L308.25,372.75 Z" fill="#fff" stroke="#000" stroke-width="1.05" stroke-linejoin="round"/>
<path d="M309.90,382.25 L311.55,383.90 L309.90,385.55 L308.25,383.90 Z" fill="#fff" stroke="#000" stroke-width="1.05" stroke-linejoin="round"/>
<line x1="306.10" y1="367.25" x2="313.60" y2="367.25" stroke="#000" stroke-width="1.1" stroke-linecap="butt"/>
<path d="M322.40,338.75 L324.05,340.40 L322.40,342.05 L320.75,340.40 Z" fill="#fff" stroke="#000" stroke-width="1.05" stroke-linejoin="round"/>
<path d="M322.40,343.95 L324.05,345.60 L322.40,347.25 L320.75,345.60 Z" fill="#fff" stroke="#000" stroke-width="1.05" stroke-linejoin="round"/>
<path d="M322.40,351.10 L324.05,352.75 L322.40,354.40 L320.75,352.75 Z" fill="#fff" stroke="#000" stroke-width="1.05" stroke-linejoin="round"/>
<path d="M322.40,362.35 L324.05,364.00 L322.40,365.65 L320.75,364.00 Z" fill="#fff" stroke="#000" stroke-width="1.05" stroke-linejoin="round"/>
<path d="M322.40,373.60 L324.05,375.25 L322.40,376.90 L320.75,375.25 Z" fill="#fff" stroke="#000" stroke-width="1.05" stroke-linejoin="round"/>
<path d="M319.90,385.25 L321.55,386.90 L319.90,388.55 L318.25,386.90 Z" fill="#fff" stroke="#000" stroke-width="1.05" stroke-linejoin="round"/>
<path d="M322.00,387.10 L323.65,388.75 L322.00,390.40 L320.35,388.75 Z" fill="#fff" stroke="#000" stroke-width="1.05" stroke-linejoin="round"/>
<path d="M322.40,399.60 L324.05,401.25 L322.40,402.90 L320.75,401.25 Z" fill="#fff" stroke="#000" stroke-width="1.05" stroke-linejoin="round"/>
<line x1="318.60" y1="369.40" x2="326.10" y2="369.40" stroke="#000" stroke-width="1.1" stroke-linecap="butt"/>
<path d="M334.90,384.15 L336.55,385.80 L334.90,387.45 L333.25,385.80 Z" fill="#fff" stroke="#000" stroke-width="1.05" stroke-linejoin="round"/>
<path d="M337.60,389.15 L339.25,390.80 L337.60,392.45 L335.95,390.80 Z" fill="#fff" stroke="#000" stroke-width="1.05" stroke-linejoin="round"/>
<path d="M332.40,392.10 L334.05,393.75 L332.40,395.40 L330.75,393.75 Z" fill="#fff" stroke="#000" stroke-width="1.05" stroke-linejoin="round"/>
<path d="M334.25,393.95 L335.90,395.60 L334.25,397.25 L332.60,395.60 Z" fill="#fff" stroke="#000" stroke-width="1.05" stroke-linejoin="round"/>
<path d="M337.00,395.25 L338.65,396.90 L337.00,398.55 L335.35,396.90 Z" fill="#fff" stroke="#000" stroke-width="1.05" stroke-linejoin="round"/>
<path d="M332.40,396.45 L334.05,398.10 L332.40,399.75 L330.75,398.10 Z" fill="#fff" stroke="#000" stroke-width="1.05" stroke-linejoin="round"/>
<path d="M334.90,397.75 L336.55,399.40 L334.90,401.05 L333.25,399.40 Z" fill="#fff" stroke="#000" stroke-width="1.05" stroke-linejoin="round"/>
<path d="M337.40,398.35 L339.05,400.00 L337.40,401.65 L335.75,400.00 Z" fill="#fff" stroke="#000" stroke-width="1.05" stroke-linejoin="round"/>
<path d="M334.50,399.85 L336.15,401.50 L334.50,403.15 L332.85,401.50 Z" fill="#fff" stroke="#000" stroke-width="1.05" stroke-linejoin="round"/>
<line x1="331.50" y1="396.60" x2="339.00" y2="396.60" stroke="#000" stroke-width="1.0" stroke-linecap="butt"/>
<line x1="308.60" y1="325.30" x2="319.30" y2="325.30" stroke="#000" stroke-width="1.1" stroke-linecap="butt"/>
<line x1="324.90" y1="325.30" x2="336.10" y2="325.30" stroke="#000" stroke-width="1.1" stroke-linecap="butt"/>
<line x1="308.50" y1="324.65" x2="308.50" y2="327.60" stroke="#000" stroke-width="1.1" stroke-linecap="butt"/>
<line x1="335.50" y1="324.65" x2="335.50" y2="378.10" stroke="#000" stroke-width="1.1" stroke-linecap="butt"/>
<text x="322.40" y="328.73" font-size="6.5" text-anchor="middle" font-weight="normal" fill="#000" stroke="#000" stroke-width="0.18">*</text>
<line x1="321.75" y1="331.30" x2="323.80" y2="331.30" stroke="#000" stroke-width="1.1" stroke-linecap="butt"/>
<line x1="331.60" y1="331.30" x2="335.50" y2="331.30" stroke="#000" stroke-width="1.1" stroke-linecap="butt"/>
<line x1="321.75" y1="330.65" x2="321.75" y2="333.80" stroke="#000" stroke-width="1.1" stroke-linecap="butt"/>
<text x="328.30" y="334.45" font-size="6" text-anchor="middle" font-weight="normal" fill="#000" stroke="#000" stroke-width="0.18">**</text>
<text x="380.80" y="301.80" font-size="12" text-anchor="start" font-weight="bold" fill="#000" stroke="#000" stroke-width="0.2">E</text>
<text x="459.00" y="302.83" font-size="7.9" text-anchor="middle" font-weight="bold" fill="#000" stroke="#000" stroke-width="0.1">MM1.S myeloma</text>
<line x1="401.25" y1="299.60" x2="419.75" y2="299.60" stroke="#000" stroke-width="1.1" stroke-linecap="butt"/>
<line x1="501.00" y1="299.60" x2="520.00" y2="299.60" stroke="#000" stroke-width="1.1" stroke-linecap="butt"/>
<rect x="401.30" y="314.50" width="52.30" height="112.10" stroke="#5e5e5e" stroke-width="0.85" fill="none"/>
<line x1="401.30" y1="370.10" x2="453.60" y2="370.10" stroke="#666" stroke-width="0.8" stroke-linecap="butt"/>
<text transform="translate(398.55,325.00) rotate(-90)" font-size="6.85" text-anchor="middle" font-weight="normal" fill="#151515" stroke="#151515" stroke-width="0.18">CD38</text>
<line x1="395.70" y1="426.30" x2="395.70" y2="344.30" stroke="#000" stroke-width="1.4" stroke-linecap="butt"/>
<path d="M395.70,340.00 L393.30,344.80 L398.10,344.80 Z" fill="#000"/>
<text transform="translate(384.40,345.00) rotate(-90)" font-size="6.7" text-anchor="middle" font-weight="normal" fill="#151515" stroke="#151515" stroke-width="0.18">CTR</text>
<text transform="translate(384.51,398.80) rotate(-90)" font-size="7.0" text-anchor="middle" font-weight="normal" fill="#151515" stroke="#151515" stroke-width="0.18">shRNA</text>
<line x1="402.00" y1="433.20" x2="411.90" y2="433.20" stroke="#000" stroke-width="1.4" stroke-linecap="butt"/>
<path d="M416.20,433.20 L411.40,430.80 L411.40,435.60 Z" fill="#000"/>
<text x="424.20" y="435.91" font-size="7.0" text-anchor="start" font-weight="normal" fill="#151515" stroke="#151515" stroke-width="0.18">mOrange</text>
<text x="453.00" y="355.18" font-size="5.8" text-anchor="end" font-weight="normal" fill="#222" stroke="#222" stroke-width="0.18">43.9</text>
<text x="448.00" y="409.98" font-size="5.8" text-anchor="end" font-weight="normal" fill="#222" stroke="#222" stroke-width="0.18">2.12</text>
<clipPath id="cE1"><rect x="401.8" y="315" width="51.4" height="54.7"/></clipPath>
<clipPath id="cE2"><rect x="401.8" y="370.6" width="51.4" height="55.5"/></clipPath>
<g clip-path="url(#cE1)">
<path d="M450.6,320.4 L451.2,320.3 L452.0,320.4 L452.4,320.5 L452.8,320.8 L453.3,321.2 L453.6,321.7 L454.0,322.4 L454.1,322.8 L454.3,323.6 L454.4,324.4 L454.4,325.0 L454.4,325.2 L454.4,326.0 L454.3,326.8 L454.2,327.6 L454.0,328.2 L453.9,328.8 L453.6,329.5 L453.5,330.0 L453.2,330.6 L452.9,331.2 L452.7,331.6 L452.4,332.2 L452.1,332.8 L451.8,333.2 L451.5,333.6 L451.2,334.0 L450.8,334.5 L450.4,334.9 L450.0,335.3 L449.6,335.7 L449.1,336.0 L448.5,336.4 L448.0,336.6 L447.4,336.8 L446.8,336.9 L446.0,336.8 L445.6,336.7 L445.2,336.4 L444.7,336.0 L444.4,335.5 L444.0,334.8 L443.9,334.4 L443.7,333.6 L443.6,332.8 L443.6,332.2 L443.6,332.0 L443.6,331.2 L443.7,330.4 L443.8,329.6 L444.0,329.0 L444.1,328.4 L444.4,327.7 L444.5,327.2 L444.8,326.6 L445.1,326.0 L445.3,325.6 L445.6,325.0 L445.9,324.4 L446.2,324.0 L446.5,323.6 L446.8,323.2 L447.2,322.7 L447.6,322.3 L448.0,321.9 L448.4,321.5 L448.9,321.2 L449.5,320.8 L450.0,320.6 L450.6,320.4 L450.6,320.4" stroke="#1a1a1a" stroke-width="0.6" fill="none" stroke-linejoin="round" stroke-linecap="round"/>
<path d="M450.1,322.0 L450.8,321.9 L451.6,322.0 L452.0,322.2 L452.4,322.5 L452.8,323.1 L453.0,323.6 L453.2,324.2 L453.3,324.8 L453.4,325.6 L453.4,326.4 L453.3,327.2 L453.2,327.6 L453.0,328.4 L452.8,329.1 L452.7,329.6 L452.4,330.2 L452.1,330.8 L451.9,331.2 L451.6,331.8 L451.2,332.4 L450.9,332.8 L450.6,333.2 L450.3,333.6 L449.9,334.0 L449.4,334.4 L448.8,334.8 L448.4,335.0 L447.9,335.2 L447.2,335.3 L446.4,335.2 L446.0,335.0 L445.6,334.7 L445.2,334.1 L445.0,333.6 L444.8,333.0 L444.7,332.4 L444.6,331.6 L444.6,330.8 L444.7,330.0 L444.8,329.6 L445.0,328.8 L445.2,328.1 L445.3,327.6 L445.6,327.0 L445.9,326.4 L446.1,326.0 L446.4,325.4 L446.8,324.8 L447.1,324.4 L447.4,324.0 L447.7,323.6 L448.1,323.2 L448.6,322.8 L449.2,322.4 L449.6,322.2 L450.1,322.0 L450.1,322.0" stroke="#1a1a1a" stroke-width="0.6" fill="none" stroke-linejoin="round" stroke-linecap="round"/>
<path d="M450.0,322.8 L450.8,322.7 L451.2,322.8 L451.9,323.2 L452.2,323.6 L452.4,324.0 L452.7,324.8 L452.8,325.4 L452.8,326.0 L452.8,326.8 L452.8,327.2 L452.6,328.0 L452.4,328.8 L452.3,329.2 L452.0,330.0 L451.8,330.4 L451.6,330.8 L451.2,331.5 L450.9,332.0 L450.6,332.4 L450.3,332.8 L449.9,333.2 L449.4,333.6 L448.9,334.0 L448.4,334.3 L448.0,334.4 L447.2,334.5 L446.8,334.4 L446.1,334.0 L445.8,333.6 L445.6,333.2 L445.3,332.4 L445.2,331.8 L445.2,331.2 L445.2,330.4 L445.2,330.0 L445.4,329.2 L445.6,328.4 L445.7,328.0 L446.0,327.2 L446.2,326.8 L446.4,326.4 L446.8,325.7 L447.1,325.2 L447.4,324.8 L447.7,324.4 L448.1,324.0 L448.6,323.6 L449.1,323.2 L449.6,322.9 L450.0,322.8 L450.0,322.8" stroke="#1a1a1a" stroke-width="0.6" fill="none" stroke-linejoin="round" stroke-linecap="round"/>
<path d="M449.7,323.6 L450.4,323.5 L451.1,323.6 L451.6,324.0 L451.9,324.4 L452.1,324.8 L452.3,325.6 L452.4,326.4 L452.3,327.2 L452.2,328.0 L452.0,328.7 L451.9,329.2 L451.6,329.8 L451.3,330.4 L451.1,330.8 L450.8,331.3 L450.4,331.9 L450.0,332.4 L449.6,332.8 L449.2,333.1 L448.8,333.4 L448.3,333.6 L447.6,333.7 L446.9,333.6 L446.4,333.2 L446.1,332.8 L445.9,332.4 L445.7,331.6 L445.6,330.8 L445.7,330.0 L445.8,329.2 L446.0,328.5 L446.1,328.0 L446.4,327.4 L446.7,326.8 L446.9,326.4 L447.2,325.9 L447.6,325.3 L448.0,324.8 L448.4,324.4 L448.8,324.1 L449.2,323.8 L449.7,323.6 L449.7,323.6" stroke="#0a0a0a" stroke-width="0.95" fill="none" stroke-linejoin="round" stroke-linecap="round"/>
<path d="M449.3,324.4 L450.0,324.1 L450.8,324.2 L451.2,324.5 L451.6,325.1 L451.8,325.6 L451.9,326.4 L451.9,327.2 L451.8,328.0 L451.6,328.7 L451.5,329.2 L451.2,329.8 L450.9,330.4 L450.7,330.8 L450.4,331.2 L450.0,331.8 L449.6,332.2 L449.2,332.5 L448.7,332.8 L448.0,333.1 L447.2,333.0 L446.8,332.7 L446.4,332.1 L446.2,331.6 L446.1,330.8 L446.1,330.0 L446.2,329.2 L446.4,328.5 L446.5,328.0 L446.8,327.4 L447.1,326.8 L447.3,326.4 L447.6,326.0 L448.0,325.4 L448.4,325.0 L448.8,324.7 L449.3,324.4 L449.3,324.4" stroke="#0a0a0a" stroke-width="0.95" fill="none" stroke-linejoin="round" stroke-linecap="round"/>
<path d="M449.8,324.8 L450.4,324.8 L450.8,325.0 L451.2,325.5 L451.4,326.0 L451.5,326.8 L451.5,327.6 L451.3,328.4 L451.2,328.8 L450.9,329.6 L450.7,330.0 L450.4,330.6 L450.0,331.1 L449.6,331.6 L449.2,331.9 L448.8,332.2 L448.2,332.4 L447.6,332.4 L447.2,332.2 L446.8,331.7 L446.6,331.2 L446.5,330.4 L446.5,329.6 L446.7,328.8 L446.8,328.4 L447.1,327.6 L447.3,327.2 L447.6,326.6 L448.0,326.1 L448.4,325.6 L448.8,325.3 L449.2,325.0 L449.8,324.8 L449.8,324.8" stroke="#0a0a0a" stroke-width="0.95" fill="none" stroke-linejoin="round" stroke-linecap="round"/>
<path d="M449.1,325.6 L449.6,325.4 L450.4,325.5 L450.8,325.9 L451.0,326.4 L451.1,327.2 L451.1,328.0 L450.9,328.8 L450.7,329.2 L450.4,329.9 L450.1,330.4 L449.8,330.8 L449.4,331.2 L448.9,331.6 L448.4,331.8 L447.6,331.7 L447.2,331.3 L447.0,330.8 L446.9,330.0 L446.9,329.2 L447.1,328.4 L447.3,328.0 L447.6,327.3 L447.9,326.8 L448.2,326.4 L448.6,326.0 L449.1,325.6 L449.1,325.6" stroke="#0a0a0a" stroke-width="0.95" fill="none" stroke-linejoin="round" stroke-linecap="round"/>
<path d="M449.5,326.0 L450.0,326.0 L450.4,326.3 L450.6,326.8 L450.7,327.6 L450.6,328.4 L450.4,329.1 L450.2,329.6 L449.9,330.0 L449.6,330.4 L449.2,330.8 L448.5,331.2 L448.0,331.2 L447.6,330.9 L447.4,330.4 L447.3,329.6 L447.4,328.8 L447.6,328.1 L447.8,327.6 L448.1,327.2 L448.4,326.8 L448.8,326.4 L449.5,326.0 L449.5,326.0" stroke="#0a0a0a" stroke-width="0.95" fill="none" stroke-linejoin="round" stroke-linecap="round"/>
<path d="M449.1,326.8 L449.6,326.6 L450.0,326.8 L450.3,327.6 L450.2,328.4 L450.0,329.1 L449.7,329.6 L449.4,330.0 L448.9,330.4 L448.4,330.6 L448.0,330.4 L447.7,329.6 L447.8,328.8 L448.0,328.1 L448.3,327.6 L448.6,327.2 L449.1,326.8 L449.1,326.8" stroke="#0a0a0a" stroke-width="0.95" fill="none" stroke-linejoin="round" stroke-linecap="round"/>
<ellipse cx="448.6" cy="329" rx="8.0" ry="13.2" fill="none" stroke="#222" stroke-width="0.75" transform="rotate(14 448.6 329)"/>
<path d="M401.5,351.0 L404.5,349.0 L407.0,348.1 L413.2,346.2 L419.5,344.4 L423.9,341.9 L427.6,338.1 L430.1,336.2 L434.5,335.6 L437.6,335.5 L437.2,337.2 L434.1,339.1 L433.2,342.5 L431.4,345.6 L432.0,347.5 L430.1,349.4 L427.0,351.9 L426.0,355.0 L423.9,356.9 L422.0,358.1 L421.4,362.5 L419.5,365.6 L417.6,369.8" stroke="#222" stroke-width="0.6" fill="none" stroke-linejoin="round" stroke-linecap="round"/>
<path d="M401.5,353.1 L403.2,351.5 L405.8,350.6 L410.8,349.4 L415.8,348.1 L418.9,348.8 L420.2,351.9 L419.0,356.2 L417.0,360.0 L416.8,365.0 L415.8,369.8" stroke="#222" stroke-width="0.6" fill="none" stroke-linejoin="round" stroke-linecap="round"/>
<path d="M401.5,355.2 L402.6,354.0 L404.5,353.1 L409.5,351.9 L412.6,351.2 L414.5,353.1 L413.9,357.5 L413.2,362.5 L412.6,369.8" stroke="#222" stroke-width="0.6" fill="none" stroke-linejoin="round" stroke-linecap="round"/>
<path d="M401.5,358.5 L402.6,357.5 L404.5,356.9 L407.6,356.2 L410.1,358.1 L409.5,362.5 L410.8,366.2 L410.1,369.8" stroke="#222" stroke-width="0.6" fill="none" stroke-linejoin="round" stroke-linecap="round"/>
<path d="M401.5,362.2 L402.6,361.0 L403.9,360.6 L406.4,361.2 L407.2,365.0 L406.0,369.8" stroke="#222" stroke-width="0.6" fill="none" stroke-linejoin="round" stroke-linecap="round"/>
<path d="M401.5,365.8 L403.0,365.9 L404.0,366.9 L404.5,369.8" stroke="#222" stroke-width="0.6" fill="none" stroke-linejoin="round" stroke-linecap="round"/>
<path d="M401.5,351.9 L402.2,353.8 L401.8,356.5 L402.8,359.4 L401.8,362.5 L402.8,365.0 L402.0,369.8" stroke="#222" stroke-width="0.6" fill="none" stroke-linejoin="round" stroke-linecap="round"/>
<circle cx="434.6" cy="345.2" r="0.7" fill="#555" stroke="#222" stroke-width="0.4"/>
</g>
<g clip-path="url(#cE2)">
<ellipse cx="442.1" cy="384" rx="8.0" ry="13.4" fill="none" stroke="#222" stroke-width="0.75" transform="rotate(14 442.1 384)"/>
<circle cx="440.5" cy="381.25" r="1.2" fill="none" stroke="#222" stroke-width="0.6"/>
<path d="M410.9,406.4 L411.4,406.4 L412.0,406.4 L412.6,406.5 L413.4,406.7 L413.8,406.9 L414.3,407.2 L414.9,407.6 L415.3,408.0 L415.7,408.4 L416.0,408.8 L416.3,409.2 L416.6,409.6 L417.0,410.4 L417.2,410.8 L417.4,411.4 L417.6,412.0 L417.8,412.8 L417.9,413.2 L418.0,414.0 L418.1,414.8 L418.2,415.6 L418.2,416.4 L418.2,417.2 L418.1,418.0 L418.0,418.8 L417.9,419.6 L417.8,420.0 L417.6,420.8 L417.4,421.3 L417.1,422.0 L416.9,422.4 L416.6,423.0 L416.2,423.6 L415.9,424.0 L415.6,424.4 L415.2,424.8 L414.7,425.2 L414.2,425.6 L413.8,425.9 L413.4,426.1 L412.8,426.4 L412.2,426.6 L411.6,426.8 L411.0,426.9 L410.2,427.0 L409.4,426.9 L408.6,426.8 L408.2,426.7 L407.4,426.4 L407.0,426.2 L406.6,426.0 L406.1,425.6 L405.6,425.2 L405.1,424.8 L404.8,424.4 L404.5,424.0 L404.2,423.6 L403.8,423.0 L403.5,422.4 L403.4,422.0 L403.1,421.2 L403.0,420.8 L402.8,420.0 L402.8,419.2 L402.8,418.4 L402.8,417.6 L402.9,416.8 L403.0,416.4 L403.2,415.6 L403.4,414.9 L403.6,414.4 L403.8,413.7 L404.0,413.2 L404.2,412.7 L404.5,412.0 L404.7,411.6 L405.0,411.0 L405.4,410.4 L405.6,410.0 L405.9,409.6 L406.2,409.2 L406.6,408.8 L407.0,408.3 L407.4,408.0 L407.9,407.6 L408.5,407.2 L409.0,406.9 L409.4,406.8 L410.2,406.5 L410.9,406.4 L410.9,406.4" stroke="#0c0c0c" stroke-width="0.7" fill="none" stroke-linejoin="round" stroke-linecap="round"/>
<path d="M410.0,409.2 L410.6,409.0 L411.4,409.0 L412.2,409.1 L412.6,409.2 L413.4,409.6 L413.8,409.9 L414.2,410.3 L414.6,410.7 L415.0,411.2 L415.2,411.6 L415.4,412.0 L415.8,412.8 L415.9,413.2 L416.2,414.0 L416.3,414.4 L416.4,415.2 L416.6,416.0 L416.6,416.4 L416.7,417.2 L416.7,418.0 L416.7,418.8 L416.6,419.5 L416.5,420.0 L416.3,420.8 L416.2,421.2 L415.8,422.0 L415.6,422.4 L415.3,422.8 L415.0,423.2 L414.6,423.7 L414.2,424.0 L413.7,424.4 L413.1,424.8 L412.6,425.1 L412.2,425.2 L411.4,425.5 L410.6,425.6 L410.2,425.6 L409.8,425.6 L409.0,425.5 L408.2,425.3 L407.8,425.1 L407.2,424.8 L406.6,424.4 L406.2,424.1 L405.8,423.7 L405.4,423.3 L405.0,422.8 L404.8,422.4 L404.6,422.0 L404.3,421.2 L404.2,420.8 L404.0,420.0 L403.9,419.2 L403.9,418.4 L404.0,417.6 L404.2,416.8 L404.3,416.4 L404.6,415.6 L404.8,415.2 L405.0,414.7 L405.4,414.0 L405.6,413.6 L405.8,413.2 L406.2,412.6 L406.6,412.0 L406.9,411.6 L407.2,411.2 L407.6,410.8 L408.0,410.4 L408.5,410.0 L409.0,409.7 L409.4,409.4 L410.0,409.2 L410.0,409.2" stroke="#0c0c0c" stroke-width="0.7" fill="none" stroke-linejoin="round" stroke-linecap="round"/>
<path d="M409.8,411.6 L410.6,411.4 L411.4,411.4 L412.2,411.6 L412.6,411.8 L413.0,412.1 L413.4,412.4 L413.8,412.9 L414.2,413.4 L414.5,414.0 L414.8,414.4 L415.0,415.0 L415.2,415.6 L415.4,416.1 L415.6,416.8 L415.7,417.6 L415.7,418.4 L415.7,419.2 L415.6,420.0 L415.4,420.7 L415.2,421.2 L415.0,421.6 L414.6,422.3 L414.2,422.8 L413.8,423.2 L413.4,423.5 L413.0,423.8 L412.6,424.1 L411.8,424.4 L411.4,424.5 L410.6,424.7 L409.8,424.7 L409.0,424.6 L408.5,424.4 L407.8,424.1 L407.4,423.9 L407.0,423.6 L406.5,423.2 L406.1,422.8 L405.8,422.4 L405.4,421.7 L405.2,421.2 L405.0,420.7 L404.8,420.0 L404.7,419.2 L404.8,418.4 L404.9,417.6 L405.0,417.2 L405.3,416.4 L405.5,416.0 L405.8,415.4 L406.2,414.8 L406.5,414.4 L406.8,414.0 L407.1,413.6 L407.5,413.2 L407.9,412.8 L408.4,412.4 L409.0,412.0 L409.4,411.8 L409.8,411.6 L409.8,411.6" stroke="#0c0c0c" stroke-width="0.7" fill="none" stroke-linejoin="round" stroke-linecap="round"/>
<path d="M410.1,413.2 L410.6,413.1 L411.3,413.2 L411.8,413.3 L412.4,413.6 L412.9,414.0 L413.3,414.4 L413.7,414.8 L413.9,415.2 L414.2,415.6 L414.6,416.4 L414.7,416.8 L414.9,417.6 L415.0,418.4 L415.0,419.2 L414.9,420.0 L414.6,420.8 L414.4,421.2 L414.2,421.6 L413.8,422.2 L413.4,422.6 L413.0,423.0 L412.6,423.3 L411.9,423.6 L411.4,423.8 L410.6,424.0 L409.8,424.0 L409.0,423.8 L408.3,423.6 L407.8,423.3 L407.4,423.1 L407.0,422.7 L406.6,422.3 L406.2,421.8 L405.9,421.2 L405.7,420.8 L405.5,420.0 L405.4,419.2 L405.5,418.4 L405.6,417.6 L405.8,417.1 L406.1,416.4 L406.3,416.0 L406.6,415.6 L407.0,415.1 L407.4,414.7 L407.8,414.3 L408.2,414.0 L408.9,413.6 L409.4,413.4 L410.1,413.2 L410.1,413.2" stroke="#0c0c0c" stroke-width="0.7" fill="none" stroke-linejoin="round" stroke-linecap="round"/>
<path d="M409.4,414.4 L409.8,414.3 L410.6,414.2 L411.4,414.3 L411.8,414.5 L412.3,414.8 L412.9,415.2 L413.2,415.6 L413.5,416.0 L413.8,416.5 L414.1,417.2 L414.2,417.6 L414.4,418.4 L414.4,419.2 L414.3,420.0 L414.2,420.4 L413.8,421.2 L413.5,421.6 L413.2,422.0 L412.8,422.4 L412.2,422.8 L411.8,423.0 L411.4,423.2 L410.6,423.4 L409.8,423.4 L409.0,423.2 L408.6,423.1 L408.0,422.8 L407.5,422.4 L407.1,422.0 L406.8,421.6 L406.5,421.2 L406.2,420.5 L406.1,420.0 L406.0,419.2 L406.0,418.4 L406.2,417.7 L406.4,417.2 L406.6,416.8 L407.0,416.1 L407.4,415.7 L407.8,415.3 L408.2,415.0 L408.6,414.7 L409.4,414.4 L409.4,414.4" stroke="#0c0c0c" stroke-width="0.7" fill="none" stroke-linejoin="round" stroke-linecap="round"/>
<path d="M409.3,415.2 L409.8,415.0 L410.6,415.0 L411.4,415.2 L411.8,415.3 L412.2,415.6 L412.7,416.0 L413.0,416.4 L413.4,417.0 L413.6,417.6 L413.8,418.3 L413.9,418.8 L413.8,419.6 L413.7,420.0 L413.4,420.8 L413.2,421.2 L412.9,421.6 L412.5,422.0 L411.9,422.4 L411.4,422.6 L410.8,422.8 L410.2,422.9 L409.5,422.8 L409.0,422.7 L408.4,422.4 L407.8,422.0 L407.4,421.6 L407.1,421.2 L406.9,420.8 L406.6,420.0 L406.5,419.6 L406.5,418.8 L406.6,418.3 L406.8,417.6 L407.0,417.2 L407.4,416.5 L407.8,416.1 L408.2,415.8 L408.6,415.5 L409.3,415.2 L409.3,415.2" stroke="#0c0c0c" stroke-width="0.7" fill="none" stroke-linejoin="round" stroke-linecap="round"/>
<path d="M408.9,416.0 L409.4,415.8 L410.2,415.7 L411.0,415.7 L411.6,416.0 L412.2,416.4 L412.6,416.8 L412.9,417.2 L413.1,417.6 L413.3,418.4 L413.3,419.2 L413.2,420.0 L413.0,420.5 L412.6,421.2 L412.2,421.6 L411.8,421.9 L411.4,422.1 L410.6,422.3 L409.8,422.3 L409.0,422.1 L408.6,422.0 L408.1,421.6 L407.7,421.2 L407.4,420.7 L407.1,420.0 L407.0,419.2 L407.0,419.1 L407.1,418.4 L407.4,417.6 L407.6,417.2 L407.9,416.8 L408.3,416.4 L408.9,416.0 L408.9,416.0" stroke="#0c0c0c" stroke-width="0.7" fill="none" stroke-linejoin="round" stroke-linecap="round"/>
<path d="M409.3,416.4 L409.8,416.3 L410.6,416.3 L411.1,416.4 L411.8,416.8 L412.2,417.2 L412.5,417.6 L412.7,418.0 L412.9,418.8 L412.8,419.6 L412.6,420.3 L412.3,420.8 L411.9,421.2 L411.4,421.6 L411.0,421.7 L410.2,421.9 L409.4,421.8 L408.9,421.6 L408.4,421.2 L408.0,420.8 L407.7,420.4 L407.5,419.6 L407.5,418.8 L407.7,418.0 L407.9,417.6 L408.2,417.2 L408.6,416.8 L409.3,416.4 L409.3,416.4" stroke="#0c0c0c" stroke-width="0.7" fill="none" stroke-linejoin="round" stroke-linecap="round"/>
<path d="M409.8,416.8 L410.2,416.8 L410.6,416.8 L411.4,417.1 L411.8,417.5 L412.2,418.0 L412.3,418.4 L412.4,419.2 L412.2,420.0 L412.0,420.4 L411.7,420.8 L411.1,421.2 L410.6,421.4 L409.8,421.4 L409.2,421.2 L408.6,420.8 L408.3,420.4 L408.1,420.0 L407.9,419.2 L408.0,418.4 L408.2,418.0 L408.6,417.5 L409.0,417.1 L409.8,416.8 L409.8,416.8" stroke="#0c0c0c" stroke-width="0.7" fill="none" stroke-linejoin="round" stroke-linecap="round"/>
<path d="M409.2,417.6 L409.8,417.3 L410.6,417.3 L411.1,417.6 L411.5,418.0 L411.8,418.5 L411.9,419.2 L411.8,419.7 L411.4,420.4 L411.0,420.7 L410.6,420.9 L409.8,420.9 L409.4,420.8 L408.9,420.4 L408.6,420.0 L408.4,419.2 L408.6,418.4 L408.8,418.0 L409.2,417.6 L409.2,417.6" stroke="#0c0c0c" stroke-width="0.7" fill="none" stroke-linejoin="round" stroke-linecap="round"/>
<path d="M409.6,418.0 L410.2,417.9 L410.7,418.0 L411.2,418.4 L411.4,419.2 L411.1,420.0 L410.6,420.3 L410.2,420.4 L409.8,420.4 L409.2,420.0 L409.0,419.6 L409.0,418.8 L409.2,418.4 L409.6,418.0 L409.6,418.0" stroke="#0c0c0c" stroke-width="0.7" fill="none" stroke-linejoin="round" stroke-linecap="round"/>
</g>
<line x1="481.50" y1="335.42" x2="481.50" y2="422.12" stroke="#000" stroke-width="1.25" stroke-linecap="butt"/>
<line x1="480.88" y1="421.50" x2="520.00" y2="421.50" stroke="#000" stroke-width="1.25" stroke-linecap="butt"/>
<line x1="478.80" y1="421.50" x2="481.50" y2="421.50" stroke="#000" stroke-width="1.0" stroke-linecap="butt"/>
<text x="478.80" y="423.83" font-size="6.5" text-anchor="end" font-weight="normal" fill="#151515" stroke="#151515" stroke-width="0.18">0</text>
<line x1="478.80" y1="399.98" x2="481.50" y2="399.98" stroke="#000" stroke-width="1.0" stroke-linecap="butt"/>
<text x="478.80" y="402.31" font-size="6.5" text-anchor="end" font-weight="normal" fill="#151515" stroke="#151515" stroke-width="0.18">20</text>
<line x1="478.80" y1="378.46" x2="481.50" y2="378.46" stroke="#000" stroke-width="1.0" stroke-linecap="butt"/>
<text x="478.80" y="380.79" font-size="6.5" text-anchor="end" font-weight="normal" fill="#151515" stroke="#151515" stroke-width="0.18">40</text>
<line x1="478.80" y1="356.94" x2="481.50" y2="356.94" stroke="#000" stroke-width="1.0" stroke-linecap="butt"/>
<text x="478.80" y="359.27" font-size="6.5" text-anchor="end" font-weight="normal" fill="#151515" stroke="#151515" stroke-width="0.18">60</text>
<line x1="478.80" y1="335.42" x2="481.50" y2="335.42" stroke="#000" stroke-width="1.0" stroke-linecap="butt"/>
<text x="478.80" y="337.75" font-size="6.5" text-anchor="end" font-weight="normal" fill="#151515" stroke="#151515" stroke-width="0.18">80</text>
<line x1="488.10" y1="421.50" x2="488.10" y2="424.50" stroke="#000" stroke-width="1.0" stroke-linecap="butt"/>
<line x1="500.60" y1="421.50" x2="500.60" y2="424.50" stroke="#000" stroke-width="1.0" stroke-linecap="butt"/>
<line x1="513.75" y1="421.50" x2="513.75" y2="424.50" stroke="#000" stroke-width="1.0" stroke-linecap="butt"/>
<text transform="translate(491.11,424.70) rotate(-90)" font-size="7.0" text-anchor="end" fill="#151515" stroke="#151515" stroke-width="0.18">wt</text>
<text transform="translate(503.41,424.70) rotate(-90)" font-size="7.0" text-anchor="end" fill="#151515" stroke="#151515" stroke-width="0.18">CTR</text>
<text transform="translate(516.51,424.70) rotate(-90)" font-size="7.0" text-anchor="end" fill="#151515" stroke="#151515" stroke-width="0.18">shRNA</text>
<text transform="translate(468.24,408.8) rotate(-90)" font-size="7.1" text-anchor="start" fill="#151515" stroke="#151515" stroke-width="0.18">BM MM1.S cells (%)</text>
<path d="M488.10,334.85 L489.75,336.50 L488.10,338.15 L486.45,336.50 Z" fill="#fff" stroke="#000" stroke-width="1.05" stroke-linejoin="round"/>
<path d="M488.10,350.85 L489.75,352.50 L488.10,354.15 L486.45,352.50 Z" fill="#fff" stroke="#000" stroke-width="1.05" stroke-linejoin="round"/>
<path d="M488.10,368.10 L489.75,369.75 L488.10,371.40 L486.45,369.75 Z" fill="#fff" stroke="#000" stroke-width="1.05" stroke-linejoin="round"/>
<path d="M488.10,374.60 L489.75,376.25 L488.10,377.90 L486.45,376.25 Z" fill="#fff" stroke="#000" stroke-width="1.05" stroke-linejoin="round"/>
<line x1="484.40" y1="358.75" x2="492.25" y2="358.75" stroke="#000" stroke-width="1.1" stroke-linecap="butt"/>
<path d="M498.10,371.10 L499.75,372.75 L498.10,374.40 L496.45,372.75 Z" fill="#fff" stroke="#000" stroke-width="1.05" stroke-linejoin="round"/>
<path d="M503.10,372.75 L504.75,374.40 L503.10,376.05 L501.45,374.40 Z" fill="#fff" stroke="#000" stroke-width="1.05" stroke-linejoin="round"/>
<path d="M500.60,374.60 L502.25,376.25 L500.60,377.90 L498.95,376.25 Z" fill="#fff" stroke="#000" stroke-width="1.05" stroke-linejoin="round"/>
<path d="M513.10,392.10 L514.75,393.75 L513.10,395.40 L511.45,393.75 Z" fill="#fff" stroke="#000" stroke-width="1.05" stroke-linejoin="round"/>
<path d="M515.00,414.35 L516.65,416.00 L515.00,417.65 L513.35,416.00 Z" fill="#fff" stroke="#000" stroke-width="1.05" stroke-linejoin="round"/>
<path d="M512.75,417.35 L514.40,419.00 L512.75,420.65 L511.10,419.00 Z" fill="#fff" stroke="#000" stroke-width="1.05" stroke-linejoin="round"/>
<line x1="509.00" y1="409.75" x2="516.90" y2="409.75" stroke="#000" stroke-width="1.1" stroke-linecap="butt"/>
<line x1="487.75" y1="328.50" x2="497.50" y2="328.50" stroke="#000" stroke-width="1.1" stroke-linecap="butt"/>
<line x1="505.00" y1="328.50" x2="514.60" y2="328.50" stroke="#000" stroke-width="1.1" stroke-linecap="butt"/>
<line x1="487.75" y1="327.85" x2="487.75" y2="331.30" stroke="#000" stroke-width="1.1" stroke-linecap="butt"/>
<line x1="514.00" y1="327.85" x2="514.00" y2="381.25" stroke="#000" stroke-width="1.1" stroke-linecap="butt"/>
<text x="501.40" y="331.75" font-size="6" text-anchor="middle" font-weight="normal" fill="#000" stroke="#000" stroke-width="0.18">**</text>
<line x1="500.60" y1="334.40" x2="504.00" y2="334.40" stroke="#000" stroke-width="1.1" stroke-linecap="butt"/>
<line x1="510.00" y1="334.40" x2="514.00" y2="334.40" stroke="#000" stroke-width="1.1" stroke-linecap="butt"/>
<line x1="500.60" y1="333.75" x2="500.60" y2="337.30" stroke="#000" stroke-width="1.1" stroke-linecap="butt"/>
<text x="507.50" y="337.55" font-size="6" text-anchor="middle" font-weight="normal" fill="#000" stroke="#000" stroke-width="0.18">*</text>
<text x="1.10" y="475.30" font-size="12" text-anchor="start" font-weight="bold" fill="#000" stroke="#000" stroke-width="0.2">F</text>
<text x="96.90" y="478.91" font-size="7.85" text-anchor="middle" font-weight="bold" fill="#000" stroke="#000" stroke-width="0.1">AML#4</text>
<line x1="16.25" y1="475.20" x2="75.60" y2="475.20" stroke="#000" stroke-width="1.1" stroke-linecap="butt"/>
<line x1="118.30" y1="475.20" x2="179.50" y2="475.20" stroke="#000" stroke-width="1.1" stroke-linecap="butt"/>
<line x1="24.40" y1="495.52" x2="24.40" y2="581.23" stroke="#000" stroke-width="1.25" stroke-linecap="butt"/>
<line x1="23.77" y1="580.60" x2="104.90" y2="580.60" stroke="#000" stroke-width="1.25" stroke-linecap="butt"/>
<line x1="21.70" y1="580.60" x2="24.40" y2="580.60" stroke="#000" stroke-width="1.0" stroke-linecap="butt"/>
<text x="21.50" y="582.98" font-size="6.65" text-anchor="end" font-weight="normal" fill="#151515" stroke="#151515" stroke-width="0.18">0.0</text>
<line x1="21.70" y1="559.33" x2="24.40" y2="559.33" stroke="#000" stroke-width="1.0" stroke-linecap="butt"/>
<text x="21.50" y="561.71" font-size="6.65" text-anchor="end" font-weight="normal" fill="#151515" stroke="#151515" stroke-width="0.18">0.1</text>
<line x1="21.70" y1="538.06" x2="24.40" y2="538.06" stroke="#000" stroke-width="1.0" stroke-linecap="butt"/>
<text x="21.50" y="540.44" font-size="6.65" text-anchor="end" font-weight="normal" fill="#151515" stroke="#151515" stroke-width="0.18">0.2</text>
<line x1="21.70" y1="516.79" x2="24.40" y2="516.79" stroke="#000" stroke-width="1.0" stroke-linecap="butt"/>
<text x="21.50" y="519.17" font-size="6.65" text-anchor="end" font-weight="normal" fill="#151515" stroke="#151515" stroke-width="0.18">0.3</text>
<line x1="21.70" y1="495.52" x2="24.40" y2="495.52" stroke="#000" stroke-width="1.0" stroke-linecap="butt"/>
<text x="21.50" y="497.90" font-size="6.65" text-anchor="end" font-weight="normal" fill="#151515" stroke="#151515" stroke-width="0.18">0.4</text>
<line x1="24.40" y1="580.60" x2="24.40" y2="583.60" stroke="#000" stroke-width="1.0" stroke-linecap="butt"/>
<text x="24.40" y="590.87" font-size="6.9" text-anchor="middle" font-weight="normal" fill="#151515" stroke="#151515" stroke-width="0.18">4</text>
<line x1="42.20" y1="580.60" x2="42.20" y2="583.60" stroke="#000" stroke-width="1.0" stroke-linecap="butt"/>
<text x="42.20" y="590.87" font-size="6.9" text-anchor="middle" font-weight="normal" fill="#151515" stroke="#151515" stroke-width="0.18">5</text>
<line x1="60.00" y1="580.60" x2="60.00" y2="583.60" stroke="#000" stroke-width="1.0" stroke-linecap="butt"/>
<text x="60.00" y="590.87" font-size="6.9" text-anchor="middle" font-weight="normal" fill="#151515" stroke="#151515" stroke-width="0.18">6</text>
<line x1="77.80" y1="580.60" x2="77.80" y2="583.60" stroke="#000" stroke-width="1.0" stroke-linecap="butt"/>
<text x="77.80" y="590.87" font-size="6.9" text-anchor="middle" font-weight="normal" fill="#151515" stroke="#151515" stroke-width="0.18">7</text>
<line x1="95.60" y1="580.60" x2="95.60" y2="583.60" stroke="#000" stroke-width="1.0" stroke-linecap="butt"/>
<text x="95.60" y="590.87" font-size="6.9" text-anchor="middle" font-weight="normal" fill="#151515" stroke="#151515" stroke-width="0.18">8</text>
<text x="46.30" y="597.28" font-size="7.2" text-anchor="start" font-weight="normal" fill="#151515" textLength="36.4" lengthAdjust="spacingAndGlyphs" stroke="#151515" stroke-width="0.18">time (weeks)</text>
<text transform="translate(9.97,535.40) rotate(-90)" font-size="6.9" text-anchor="middle" font-weight="normal" fill="#151515" stroke="#151515" stroke-width="0.18">mOrange+ cells (%)</text>
<line x1="95.60" y1="528.40" x2="95.60" y2="494.40" stroke="#000" stroke-width="1.0" stroke-linecap="butt"/>
<line x1="93.10" y1="528.40" x2="98.10" y2="528.40" stroke="#000" stroke-width="1.0" stroke-linecap="butt"/>
<line x1="93.10" y1="494.40" x2="98.10" y2="494.40" stroke="#000" stroke-width="1.0" stroke-linecap="butt"/>
<line x1="77.80" y1="558.27" x2="77.80" y2="551.25" stroke="#000" stroke-width="1.0" stroke-linecap="butt"/>
<line x1="75.80" y1="558.27" x2="79.80" y2="558.27" stroke="#000" stroke-width="1.0" stroke-linecap="butt"/>
<line x1="75.80" y1="551.25" x2="79.80" y2="551.25" stroke="#000" stroke-width="1.0" stroke-linecap="butt"/>
<path d="M24.4,580.2 L42.2,578.9 L60.0,576.6 L77.8,554.8 L95.6,510.6" stroke="#000" stroke-width="1.2" fill="none" stroke-linejoin="round" stroke-linecap="round"/>
<path d="M24.4,580.2 L42.2,578.9 L60.0,579.5 L77.8,576.6 L95.6,568.8" stroke="#000" stroke-width="1.2" fill="none" stroke-linejoin="round" stroke-linecap="round"/>
<circle cx="24.40" cy="580.17" r="1.6" fill="#fff" stroke="#000" stroke-width="0.9"/>
<circle cx="42.20" cy="578.90" r="1.6" fill="#fff" stroke="#000" stroke-width="0.9"/>
<circle cx="60.00" cy="576.60" r="1.6" fill="#fff" stroke="#000" stroke-width="0.9"/>
<circle cx="77.80" cy="554.76" r="1.6" fill="#fff" stroke="#000" stroke-width="0.9"/>
<circle cx="95.60" cy="510.62" r="1.6" fill="#fff" stroke="#000" stroke-width="0.9"/>
<path d="M24.40,578.27 L26.30,580.17 L24.40,582.07 L22.50,580.17 Z" fill="#000" stroke="#000" stroke-width="0.6" stroke-linejoin="round"/>
<path d="M42.20,577.00 L44.10,578.90 L42.20,580.80 L40.30,578.90 Z" fill="#000" stroke="#000" stroke-width="0.6" stroke-linejoin="round"/>
<path d="M60.00,577.64 L61.90,579.54 L60.00,581.44 L58.10,579.54 Z" fill="#000" stroke="#000" stroke-width="0.6" stroke-linejoin="round"/>
<path d="M77.80,574.70 L79.70,576.60 L77.80,578.50 L75.90,576.60 Z" fill="#000" stroke="#000" stroke-width="0.6" stroke-linejoin="round"/>
<path d="M95.60,566.85 L97.50,568.75 L95.60,570.65 L93.70,568.75 Z" fill="#000" stroke="#000" stroke-width="0.6" stroke-linejoin="round"/>
<text x="60.00" y="571.45" font-size="6" text-anchor="middle" font-weight="normal" fill="#000" stroke="#000" stroke-width="0.18">**</text>
<text x="76.90" y="548.75" font-size="6" text-anchor="middle" font-weight="normal" fill="#000" stroke="#000" stroke-width="0.18">***</text>
<text x="96.00" y="492.85" font-size="6" text-anchor="middle" font-weight="normal" fill="#000" stroke="#000" stroke-width="0.18">**</text>
<line x1="30.60" y1="496.00" x2="40.60" y2="496.00" stroke="#000" stroke-width="1.1" stroke-linecap="butt"/>
<circle cx="35.6" cy="496" r="1.6" fill="#fff" stroke="#000" stroke-width="0.9"/>
<text x="45.00" y="498.33" font-size="6.5" text-anchor="start" font-weight="normal" fill="#151515" stroke="#151515" stroke-width="0.18">CTR</text>
<line x1="30.60" y1="506.75" x2="40.60" y2="506.75" stroke="#000" stroke-width="1.1" stroke-linecap="butt"/>
<path d="M35.60,504.85 L37.50,506.75 L35.60,508.65 L33.70,506.75 Z" fill="#000" stroke="#000" stroke-width="0.6" stroke-linejoin="round"/>
<text x="45.00" y="509.08" font-size="6.5" text-anchor="start" font-weight="normal" fill="#151515" stroke="#151515" stroke-width="0.18">shRNA</text>
<line x1="148.75" y1="494.80" x2="148.75" y2="581.52" stroke="#000" stroke-width="1.25" stroke-linecap="butt"/>
<line x1="148.12" y1="580.90" x2="181.90" y2="580.90" stroke="#000" stroke-width="1.25" stroke-linecap="butt"/>
<line x1="146.05" y1="580.90" x2="148.75" y2="580.90" stroke="#000" stroke-width="1.0" stroke-linecap="butt"/>
<text x="146.00" y="583.26" font-size="6.6" text-anchor="end" font-weight="normal" fill="#151515" stroke="#151515" stroke-width="0.18">0</text>
<line x1="146.05" y1="568.60" x2="148.75" y2="568.60" stroke="#000" stroke-width="1.0" stroke-linecap="butt"/>
<text x="146.00" y="570.96" font-size="6.6" text-anchor="end" font-weight="normal" fill="#151515" stroke="#151515" stroke-width="0.18">3</text>
<line x1="146.05" y1="556.30" x2="148.75" y2="556.30" stroke="#000" stroke-width="1.0" stroke-linecap="butt"/>
<text x="146.00" y="558.66" font-size="6.6" text-anchor="end" font-weight="normal" fill="#151515" stroke="#151515" stroke-width="0.18">6</text>
<line x1="146.05" y1="544.00" x2="148.75" y2="544.00" stroke="#000" stroke-width="1.0" stroke-linecap="butt"/>
<text x="146.00" y="546.36" font-size="6.6" text-anchor="end" font-weight="normal" fill="#151515" stroke="#151515" stroke-width="0.18">9</text>
<line x1="146.05" y1="531.70" x2="148.75" y2="531.70" stroke="#000" stroke-width="1.0" stroke-linecap="butt"/>
<text x="146.00" y="534.06" font-size="6.6" text-anchor="end" font-weight="normal" fill="#151515" stroke="#151515" stroke-width="0.18">12</text>
<line x1="146.05" y1="519.40" x2="148.75" y2="519.40" stroke="#000" stroke-width="1.0" stroke-linecap="butt"/>
<text x="146.00" y="521.76" font-size="6.6" text-anchor="end" font-weight="normal" fill="#151515" stroke="#151515" stroke-width="0.18">15</text>
<line x1="146.05" y1="507.10" x2="148.75" y2="507.10" stroke="#000" stroke-width="1.0" stroke-linecap="butt"/>
<text x="146.00" y="509.46" font-size="6.6" text-anchor="end" font-weight="normal" fill="#151515" stroke="#151515" stroke-width="0.18">18</text>
<line x1="146.05" y1="494.80" x2="148.75" y2="494.80" stroke="#000" stroke-width="1.0" stroke-linecap="butt"/>
<text x="146.00" y="497.16" font-size="6.6" text-anchor="end" font-weight="normal" fill="#151515" stroke="#151515" stroke-width="0.18">21</text>
<line x1="157.75" y1="580.90" x2="157.75" y2="583.90" stroke="#000" stroke-width="1.0" stroke-linecap="butt"/>
<line x1="174.00" y1="580.90" x2="174.00" y2="583.90" stroke="#000" stroke-width="1.0" stroke-linecap="butt"/>
<text transform="translate(160.51,584.40) rotate(-90)" font-size="7.0" text-anchor="end" fill="#151515" stroke="#151515" stroke-width="0.18">CTR</text>
<text transform="translate(176.71,584.40) rotate(-90)" font-size="7.0" text-anchor="end" fill="#151515" stroke="#151515" stroke-width="0.18">shRNA</text>
<text transform="translate(136.07,567.5) rotate(-90)" font-size="6.9" text-anchor="start" fill="#151515" stroke="#151515" stroke-width="0.18">mOrange+ cells (%)</text>
<path d="M157.25,506.25 L158.90,507.90 L157.25,509.55 L155.60,507.90 Z" fill="#fff" stroke="#000" stroke-width="1.05" stroke-linejoin="round"/>
<path d="M157.25,511.10 L158.90,512.75 L157.25,514.40 L155.60,512.75 Z" fill="#fff" stroke="#000" stroke-width="1.05" stroke-linejoin="round"/>
<path d="M155.00,540.60 L156.65,542.25 L155.00,543.90 L153.35,542.25 Z" fill="#fff" stroke="#000" stroke-width="1.05" stroke-linejoin="round"/>
<path d="M157.25,541.95 L158.90,543.60 L157.25,545.25 L155.60,543.60 Z" fill="#fff" stroke="#000" stroke-width="1.05" stroke-linejoin="round"/>
<path d="M159.75,558.35 L161.40,560.00 L159.75,561.65 L158.10,560.00 Z" fill="#fff" stroke="#000" stroke-width="1.05" stroke-linejoin="round"/>
<path d="M157.25,560.60 L158.90,562.25 L157.25,563.90 L155.60,562.25 Z" fill="#fff" stroke="#000" stroke-width="1.05" stroke-linejoin="round"/>
<line x1="151.90" y1="538.50" x2="162.50" y2="538.50" stroke="#000" stroke-width="1.1" stroke-linecap="butt"/>
<path d="M173.75,571.35 L175.15,572.75 L173.75,574.15 L172.35,572.75 Z" fill="#000" stroke="#000" stroke-width="0.5" stroke-linejoin="round"/>
<path d="M171.00,576.50 L172.40,577.90 L171.00,579.30 L169.60,577.90 Z" fill="#000" stroke="#000" stroke-width="0.5" stroke-linejoin="round"/>
<path d="M173.00,577.60 L174.40,579.00 L173.00,580.40 L171.60,579.00 Z" fill="#000" stroke="#000" stroke-width="0.5" stroke-linejoin="round"/>
<path d="M175.00,577.00 L176.40,578.40 L175.00,579.80 L173.60,578.40 Z" fill="#000" stroke="#000" stroke-width="0.5" stroke-linejoin="round"/>
<path d="M176.80,576.20 L178.20,577.60 L176.80,579.00 L175.40,577.60 Z" fill="#000" stroke="#000" stroke-width="0.5" stroke-linejoin="round"/>
<path d="M174.00,578.20 L175.40,579.60 L174.00,581.00 L172.60,579.60 Z" fill="#000" stroke="#000" stroke-width="0.5" stroke-linejoin="round"/>
<path d="M172.00,578.20 L173.40,579.60 L172.00,581.00 L170.60,579.60 Z" fill="#000" stroke="#000" stroke-width="0.5" stroke-linejoin="round"/>
<line x1="168.10" y1="577.50" x2="178.75" y2="577.50" stroke="#000" stroke-width="1.0" stroke-linecap="butt"/>
<line x1="156.90" y1="496.00" x2="159.00" y2="496.00" stroke="#000" stroke-width="1.1" stroke-linecap="butt"/>
<line x1="170.60" y1="496.00" x2="174.65" y2="496.00" stroke="#000" stroke-width="1.1" stroke-linecap="butt"/>
<line x1="156.90" y1="495.35" x2="156.90" y2="498.20" stroke="#000" stroke-width="1.1" stroke-linecap="butt"/>
<line x1="174.00" y1="495.35" x2="174.00" y2="562.00" stroke="#000" stroke-width="1.1" stroke-linecap="butt"/>
<text x="165.30" y="499.15" font-size="6" text-anchor="middle" font-weight="normal" fill="#000" stroke="#000" stroke-width="0.18">**</text>
</svg>
</body></html>
